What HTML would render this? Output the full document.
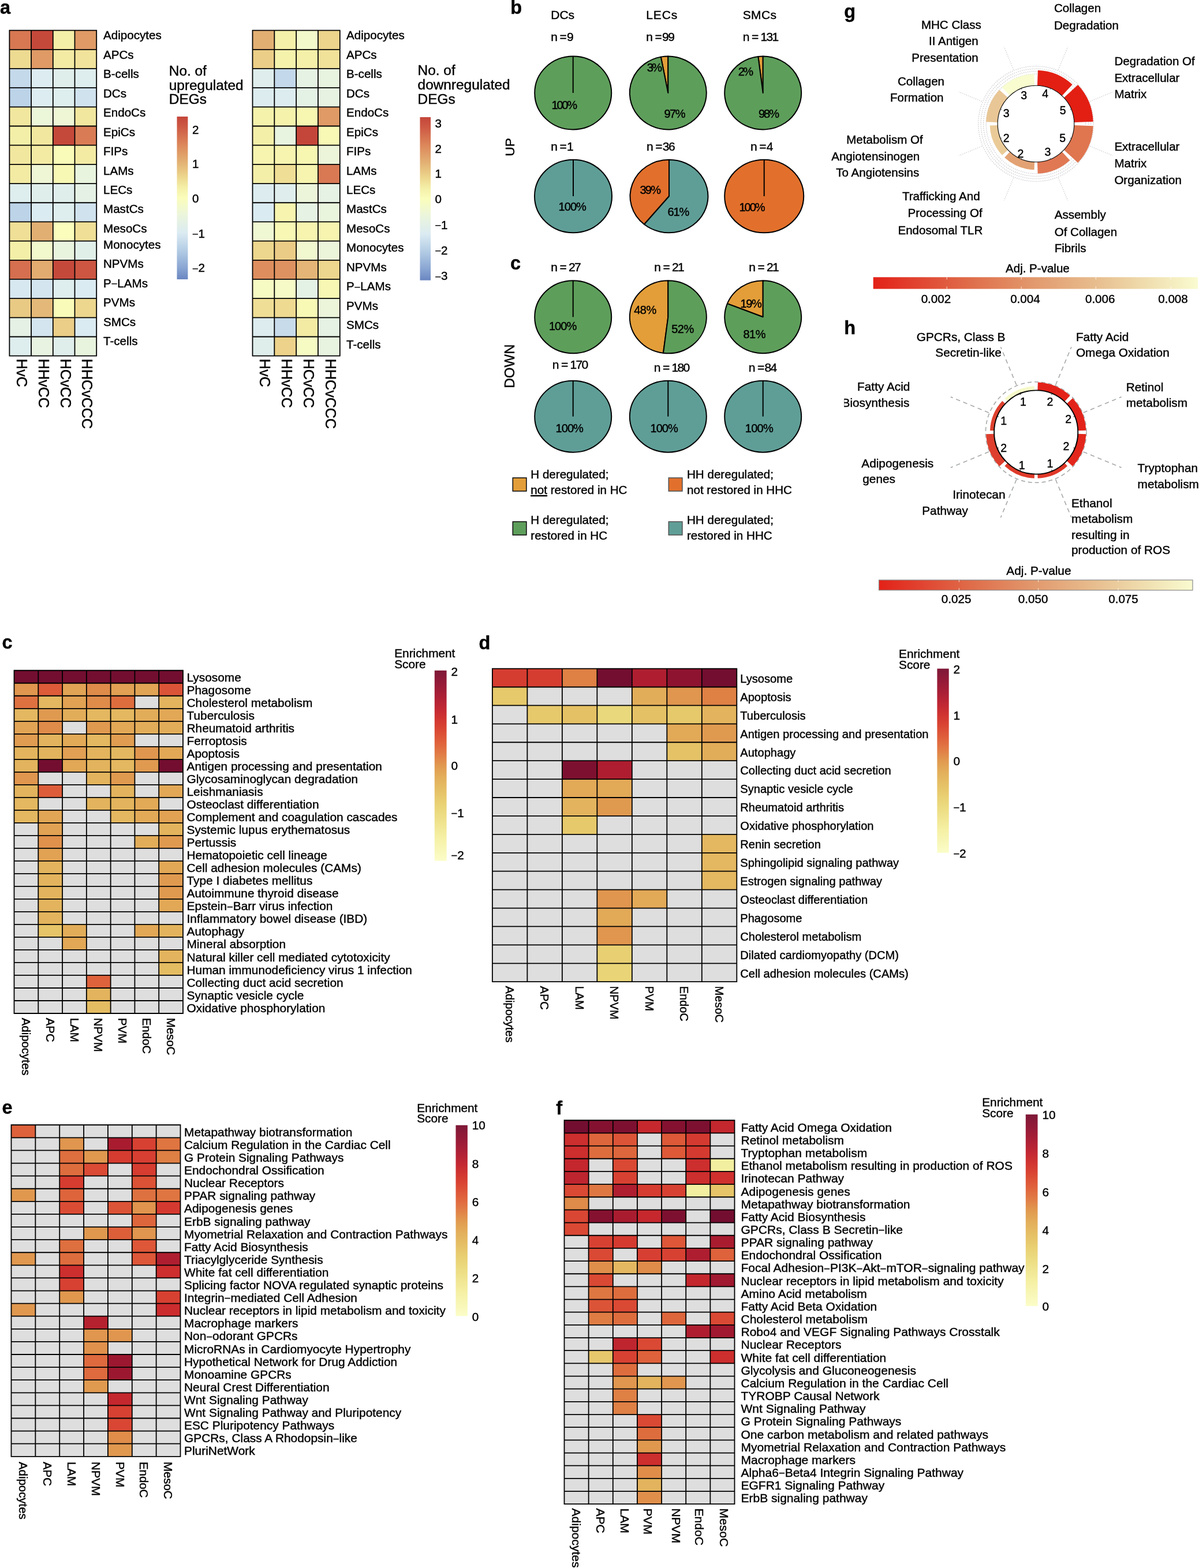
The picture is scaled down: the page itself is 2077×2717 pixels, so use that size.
<!DOCTYPE html>
<html lang="en"><head><meta charset="utf-8"><title>Figure</title>
<style>
html,body{margin:0;padding:0;background:#fff;}
body{width:2077px;height:2717px;overflow:hidden;}
svg{display:block;font-family:"Liberation Sans",Arial,Helvetica,sans-serif;fill:#000;}
text{stroke:#000;stroke-width:0.42px;stroke-linejoin:round;}
</style></head>
<body>
<svg width="2077" height="2717" viewBox="0 0 2077 2717">
<defs><linearGradient id="gA" x1="0" y1="0" x2="0" y2="1"><stop offset="0.0000" stop-color="#C4463A"/><stop offset="0.0650" stop-color="#CE5A44"/><stop offset="0.1800" stop-color="#DD8A5C"/><stop offset="0.2850" stop-color="#E3B375"/><stop offset="0.3700" stop-color="#EDD68D"/><stop offset="0.4350" stop-color="#F4EFA8"/><stop offset="0.5000" stop-color="#FAFDBB"/><stop offset="0.6050" stop-color="#EBF5DC"/><stop offset="0.7150" stop-color="#DBEBF2"/><stop offset="0.8200" stop-color="#B4CDE5"/><stop offset="0.9250" stop-color="#8BA7D3"/><stop offset="1.0000" stop-color="#6A86C1"/></linearGradient><linearGradient id="gY" x1="0" y1="0" x2="0" y2="1"><stop offset="0.0000" stop-color="#7E1838"/><stop offset="0.0700" stop-color="#951B38"/><stop offset="0.1400" stop-color="#AD2036"/><stop offset="0.2000" stop-color="#C22833"/><stop offset="0.2500" stop-color="#D03431"/><stop offset="0.3000" stop-color="#D94332"/><stop offset="0.3800" stop-color="#E0623C"/><stop offset="0.4400" stop-color="#E17C46"/><stop offset="0.5000" stop-color="#E1994F"/><stop offset="0.5600" stop-color="#E3AE5A"/><stop offset="0.6200" stop-color="#E5BE64"/><stop offset="0.6900" stop-color="#E9CF72"/><stop offset="0.7500" stop-color="#ECDB80"/><stop offset="0.8750" stop-color="#F5F0A4"/><stop offset="1.0000" stop-color="#FBFDC9"/></linearGradient><linearGradient id="gP" x1="0" y1="0" x2="1" y2="0"><stop offset="0.0000" stop-color="#E32118"/><stop offset="0.1200" stop-color="#E1402E"/><stop offset="0.3000" stop-color="#DF6E4B"/><stop offset="0.5000" stop-color="#E29A6E"/><stop offset="0.7000" stop-color="#E8C091"/><stop offset="0.8500" stop-color="#F0DFB0"/><stop offset="1.0000" stop-color="#F9FBD0"/></linearGradient></defs>
<rect width="2077" height="2717" fill="#fff"/>
<g shape-rendering="geometricPrecision">
<rect x="16.40" y="52.60" width="37.70" height="33.18" fill="#D77853"/>
<rect x="54.10" y="52.60" width="37.70" height="33.18" fill="#C5493B"/>
<rect x="91.80" y="52.60" width="37.70" height="33.18" fill="#F4EFA8"/>
<rect x="129.50" y="52.60" width="37.70" height="33.18" fill="#DF9A66"/>
<rect x="16.40" y="85.78" width="37.70" height="33.18" fill="#EEDB92"/>
<rect x="54.10" y="85.78" width="37.70" height="33.18" fill="#DF9A66"/>
<rect x="91.80" y="85.78" width="37.70" height="33.18" fill="#F3EBA4"/>
<rect x="129.50" y="85.78" width="37.70" height="33.18" fill="#F1E39B"/>
<rect x="16.40" y="118.96" width="37.70" height="33.18" fill="#C4D9EA"/>
<rect x="54.10" y="118.96" width="37.70" height="33.18" fill="#DDECF0"/>
<rect x="91.80" y="118.96" width="37.70" height="33.18" fill="#E0EEEB"/>
<rect x="129.50" y="118.96" width="37.70" height="33.18" fill="#DEEDED"/>
<rect x="16.40" y="152.15" width="37.70" height="33.18" fill="#BCD3E8"/>
<rect x="54.10" y="152.15" width="37.70" height="33.18" fill="#DDECF0"/>
<rect x="91.80" y="152.15" width="37.70" height="33.18" fill="#DEEDED"/>
<rect x="129.50" y="152.15" width="37.70" height="33.18" fill="#D0E2EE"/>
<rect x="16.40" y="185.33" width="37.70" height="33.18" fill="#F2E79F"/>
<rect x="54.10" y="185.33" width="37.70" height="33.18" fill="#ECF6D9"/>
<rect x="91.80" y="185.33" width="37.70" height="33.18" fill="#EEF6D6"/>
<rect x="129.50" y="185.33" width="37.70" height="33.18" fill="#F2E79F"/>
<rect x="16.40" y="218.51" width="37.70" height="33.18" fill="#F4EFA8"/>
<rect x="54.10" y="218.51" width="37.70" height="33.18" fill="#F2E79F"/>
<rect x="91.80" y="218.51" width="37.70" height="33.18" fill="#C5493B"/>
<rect x="129.50" y="218.51" width="37.70" height="33.18" fill="#D97C55"/>
<rect x="16.40" y="251.69" width="37.70" height="33.18" fill="#F2E79F"/>
<rect x="54.10" y="251.69" width="37.70" height="33.18" fill="#F3EBA4"/>
<rect x="91.80" y="251.69" width="37.70" height="33.18" fill="#F9FBB8"/>
<rect x="129.50" y="251.69" width="37.70" height="33.18" fill="#F3EBA4"/>
<rect x="16.40" y="284.88" width="37.70" height="33.18" fill="#F3EBA4"/>
<rect x="54.10" y="284.88" width="37.70" height="33.18" fill="#EEF6D6"/>
<rect x="91.80" y="284.88" width="37.70" height="33.18" fill="#F8F8B5"/>
<rect x="129.50" y="284.88" width="37.70" height="33.18" fill="#E9F4DF"/>
<rect x="16.40" y="318.06" width="37.70" height="33.18" fill="#DEEDED"/>
<rect x="54.10" y="318.06" width="37.70" height="33.18" fill="#E0EEEB"/>
<rect x="91.80" y="318.06" width="37.70" height="33.18" fill="#E0EEEB"/>
<rect x="129.50" y="318.06" width="37.70" height="33.18" fill="#E5F1E5"/>
<rect x="16.40" y="351.24" width="37.70" height="33.18" fill="#BCD3E8"/>
<rect x="54.10" y="351.24" width="37.70" height="33.18" fill="#DBEBF2"/>
<rect x="91.80" y="351.24" width="37.70" height="33.18" fill="#DEEDED"/>
<rect x="129.50" y="351.24" width="37.70" height="33.18" fill="#D0E2EE"/>
<rect x="16.40" y="384.42" width="37.70" height="33.18" fill="#EFDF97"/>
<rect x="54.10" y="384.42" width="37.70" height="33.18" fill="#E2AF73"/>
<rect x="91.80" y="384.42" width="37.70" height="33.18" fill="#FAFDBB"/>
<rect x="129.50" y="384.42" width="37.70" height="33.18" fill="#EFDF97"/>
<rect x="16.40" y="417.61" width="37.70" height="33.18" fill="#F4EFA8"/>
<rect x="54.10" y="417.61" width="37.70" height="33.18" fill="#F2F9CC"/>
<rect x="91.80" y="417.61" width="37.70" height="33.18" fill="#E9F4DF"/>
<rect x="129.50" y="417.61" width="37.70" height="33.18" fill="#E1EFE9"/>
<rect x="16.40" y="450.79" width="37.70" height="33.18" fill="#D56F4F"/>
<rect x="54.10" y="450.79" width="37.70" height="33.18" fill="#E2AB70"/>
<rect x="91.80" y="450.79" width="37.70" height="33.18" fill="#C5493B"/>
<rect x="129.50" y="450.79" width="37.70" height="33.18" fill="#CC5642"/>
<rect x="16.40" y="483.97" width="37.70" height="33.18" fill="#D8E8F1"/>
<rect x="54.10" y="483.97" width="37.70" height="33.18" fill="#D4E5F0"/>
<rect x="91.80" y="483.97" width="37.70" height="33.18" fill="#DEEDED"/>
<rect x="129.50" y="483.97" width="37.70" height="33.18" fill="#DBEBF2"/>
<rect x="16.40" y="517.15" width="37.70" height="33.18" fill="#E9CA84"/>
<rect x="54.10" y="517.15" width="37.70" height="33.18" fill="#E4B878"/>
<rect x="91.80" y="517.15" width="37.70" height="33.18" fill="#F9FBB8"/>
<rect x="129.50" y="517.15" width="37.70" height="33.18" fill="#EDD78E"/>
<rect x="16.40" y="550.34" width="37.70" height="33.18" fill="#E5F1E5"/>
<rect x="54.10" y="550.34" width="37.70" height="33.18" fill="#D4E5F0"/>
<rect x="91.80" y="550.34" width="37.70" height="33.18" fill="#EBCE87"/>
<rect x="129.50" y="550.34" width="37.70" height="33.18" fill="#DBEBF2"/>
<rect x="16.40" y="583.52" width="37.70" height="33.18" fill="#DEEDED"/>
<rect x="54.10" y="583.52" width="37.70" height="33.18" fill="#E8F3E1"/>
<rect x="91.80" y="583.52" width="37.70" height="33.18" fill="#E0EEEB"/>
<rect x="129.50" y="583.52" width="37.70" height="33.18" fill="#E9F4DF"/>
<path d="M16.40,52.60H167.20M16.40,85.78H167.20M16.40,118.96H167.20M16.40,152.15H167.20M16.40,185.33H167.20M16.40,218.51H167.20M16.40,251.69H167.20M16.40,284.88H167.20M16.40,318.06H167.20M16.40,351.24H167.20M16.40,384.42H167.20M16.40,417.61H167.20M16.40,450.79H167.20M16.40,483.97H167.20M16.40,517.15H167.20M16.40,550.34H167.20M16.40,583.52H167.20M16.40,616.70H167.20M16.40,52.60V616.70M54.10,52.60V616.70M91.80,52.60V616.70M129.50,52.60V616.70M167.20,52.60V616.70" stroke="#000" stroke-width="1.8" fill="none" stroke-linecap="square"/>
</g>
<text x="179.0" y="68.2" font-size="20.6">Adipocytes</text>
<text x="179.0" y="101.7" font-size="20.6">APCs</text>
<text x="179.0" y="135.1" font-size="20.6">B-cells</text>
<text x="179.0" y="168.6" font-size="20.6">DCs</text>
<text x="179.0" y="202.1" font-size="20.6">EndoCs</text>
<text x="179.0" y="235.6" font-size="20.6">EpiCs</text>
<text x="179.0" y="269.0" font-size="20.6">FIPs</text>
<text x="179.0" y="302.5" font-size="20.6">LAMs</text>
<text x="179.0" y="336.0" font-size="20.6">LECs</text>
<text x="179.0" y="369.4" font-size="20.6">MastCs</text>
<text x="179.0" y="402.9" font-size="20.6">MesoCs</text>
<text x="179.0" y="430.9" font-size="20.6">Monocytes</text>
<text x="179.0" y="464.3" font-size="20.6">NPVMs</text>
<text x="179.0" y="497.8" font-size="20.6">P<tspan style="font-size:88%" dy="0.02em">−</tspan><tspan dy="-0.02em">LAMs</tspan></text>
<text x="179.0" y="531.3" font-size="20.6">PVMs</text>
<text x="179.0" y="564.8" font-size="20.6">SMCs</text>
<text x="179.0" y="598.2" font-size="20.6">T-cells</text>
<text transform="translate(29.2,621.8) rotate(90)" font-size="25.1">HvC</text>
<text transform="translate(66.8,621.8) rotate(90)" font-size="25.1">HHvCC</text>
<text transform="translate(104.5,621.8) rotate(90)" font-size="25.1">HCvCC</text>
<text transform="translate(142.2,621.8) rotate(90)" font-size="25.1">HHCvCCC</text>
<text x="292.8" y="130.6" font-size="24.4">No. of</text>
<text x="292.8" y="155.6" font-size="24.4">upregulated</text>
<text x="292.8" y="180.2" font-size="24.4">DEGs</text>
<rect x="306.5" y="202" width="18.9" height="282" fill="url(#gA)"/>
<text x="332.9" y="231.8" font-size="20.6">2</text>
<text x="332.9" y="291.0" font-size="20.6">1</text>
<text x="332.9" y="350.9" font-size="20.6">0</text>
<text x="332.9" y="411.6" font-size="20.6"><tspan style="font-size:88%" dy="0.02em">−</tspan><tspan dy="-0.02em">1</tspan></text>
<text x="332.9" y="471.5" font-size="20.6"><tspan style="font-size:88%" dy="0.02em">−</tspan><tspan dy="-0.02em">2</tspan></text>
<g shape-rendering="geometricPrecision">
<rect x="437.50" y="52.60" width="37.82" height="33.18" fill="#E2AF73"/>
<rect x="475.32" y="52.60" width="37.82" height="33.18" fill="#F4F0A9"/>
<rect x="513.15" y="52.60" width="37.82" height="33.18" fill="#F3F9CB"/>
<rect x="550.97" y="52.60" width="37.82" height="33.18" fill="#ECD48C"/>
<rect x="437.50" y="85.78" width="37.82" height="33.18" fill="#EBCE87"/>
<rect x="475.32" y="85.78" width="37.82" height="33.18" fill="#F5F2AC"/>
<rect x="513.15" y="85.78" width="37.82" height="33.18" fill="#F4F0A9"/>
<rect x="550.97" y="85.78" width="37.82" height="33.18" fill="#F0E299"/>
<rect x="437.50" y="118.96" width="37.82" height="33.18" fill="#DFEEEC"/>
<rect x="475.32" y="118.96" width="37.82" height="33.18" fill="#C3D8EA"/>
<rect x="513.15" y="118.96" width="37.82" height="33.18" fill="#E6F2E3"/>
<rect x="550.97" y="118.96" width="37.82" height="33.18" fill="#E8F3E0"/>
<rect x="437.50" y="152.15" width="37.82" height="33.18" fill="#DDECEF"/>
<rect x="475.32" y="152.15" width="37.82" height="33.18" fill="#DDECEF"/>
<rect x="513.15" y="152.15" width="37.82" height="33.18" fill="#E4F1E5"/>
<rect x="550.97" y="152.15" width="37.82" height="33.18" fill="#E7F2E2"/>
<rect x="437.50" y="185.33" width="37.82" height="33.18" fill="#F5F2AC"/>
<rect x="475.32" y="185.33" width="37.82" height="33.18" fill="#F5F2AC"/>
<rect x="513.15" y="185.33" width="37.82" height="33.18" fill="#F7F7B2"/>
<rect x="550.97" y="185.33" width="37.82" height="33.18" fill="#DF9A66"/>
<rect x="437.50" y="218.51" width="37.82" height="33.18" fill="#F4EFA8"/>
<rect x="475.32" y="218.51" width="37.82" height="33.18" fill="#E8F3E0"/>
<rect x="513.15" y="218.51" width="37.82" height="33.18" fill="#C4463A"/>
<rect x="550.97" y="218.51" width="37.82" height="33.18" fill="#F8F9B5"/>
<rect x="437.50" y="251.69" width="37.82" height="33.18" fill="#F6F4AF"/>
<rect x="475.32" y="251.69" width="37.82" height="33.18" fill="#F6F4AF"/>
<rect x="513.15" y="251.69" width="37.82" height="33.18" fill="#F7F7B2"/>
<rect x="550.97" y="251.69" width="37.82" height="33.18" fill="#ECF5DA"/>
<rect x="437.50" y="284.88" width="37.82" height="33.18" fill="#F4EFA8"/>
<rect x="475.32" y="284.88" width="37.82" height="33.18" fill="#EFDE95"/>
<rect x="513.15" y="284.88" width="37.82" height="33.18" fill="#F6F4AF"/>
<rect x="550.97" y="284.88" width="37.82" height="33.18" fill="#D87954"/>
<rect x="437.50" y="318.06" width="37.82" height="33.18" fill="#DDECEF"/>
<rect x="475.32" y="318.06" width="37.82" height="33.18" fill="#DFEEEC"/>
<rect x="513.15" y="318.06" width="37.82" height="33.18" fill="#ECF5DA"/>
<rect x="550.97" y="318.06" width="37.82" height="33.18" fill="#E6F2E3"/>
<rect x="437.50" y="351.24" width="37.82" height="33.18" fill="#DBEBF2"/>
<rect x="475.32" y="351.24" width="37.82" height="33.18" fill="#F6F4AF"/>
<rect x="513.15" y="351.24" width="37.82" height="33.18" fill="#E6F2E3"/>
<rect x="550.97" y="351.24" width="37.82" height="33.18" fill="#EAF5DD"/>
<rect x="437.50" y="384.42" width="37.82" height="33.18" fill="#EFF7D3"/>
<rect x="475.32" y="384.42" width="37.82" height="33.18" fill="#F8F8B4"/>
<rect x="513.15" y="384.42" width="37.82" height="33.18" fill="#F6F4AF"/>
<rect x="550.97" y="384.42" width="37.82" height="33.18" fill="#F6F4AF"/>
<rect x="437.50" y="417.61" width="37.82" height="33.18" fill="#EDD68D"/>
<rect x="475.32" y="417.61" width="37.82" height="33.18" fill="#EACC86"/>
<rect x="513.15" y="417.61" width="37.82" height="33.18" fill="#F1F8CF"/>
<rect x="550.97" y="417.61" width="37.82" height="33.18" fill="#ECF5DA"/>
<rect x="437.50" y="450.79" width="37.82" height="33.18" fill="#DE8E5E"/>
<rect x="475.32" y="450.79" width="37.82" height="33.18" fill="#DE9261"/>
<rect x="513.15" y="450.79" width="37.82" height="33.18" fill="#E4B576"/>
<rect x="550.97" y="450.79" width="37.82" height="33.18" fill="#EDD68D"/>
<rect x="437.50" y="483.97" width="37.82" height="33.18" fill="#F6FBC3"/>
<rect x="475.32" y="483.97" width="37.82" height="33.18" fill="#F5FAC6"/>
<rect x="513.15" y="483.97" width="37.82" height="33.18" fill="#E4F1E5"/>
<rect x="550.97" y="483.97" width="37.82" height="33.18" fill="#F8F8B4"/>
<rect x="437.50" y="517.15" width="37.82" height="33.18" fill="#EFDE95"/>
<rect x="475.32" y="517.15" width="37.82" height="33.18" fill="#EEDA91"/>
<rect x="513.15" y="517.15" width="37.82" height="33.18" fill="#F8F9B5"/>
<rect x="550.97" y="517.15" width="37.82" height="33.18" fill="#ECF5DA"/>
<rect x="437.50" y="550.34" width="37.82" height="33.18" fill="#DDECEF"/>
<rect x="475.32" y="550.34" width="37.82" height="33.18" fill="#C7DBEB"/>
<rect x="513.15" y="550.34" width="37.82" height="33.18" fill="#F3EBA4"/>
<rect x="550.97" y="550.34" width="37.82" height="33.18" fill="#E6F2E3"/>
<rect x="437.50" y="583.52" width="37.82" height="33.18" fill="#E0EEEB"/>
<rect x="475.32" y="583.52" width="37.82" height="33.18" fill="#ECD28A"/>
<rect x="513.15" y="583.52" width="37.82" height="33.18" fill="#F6FBC3"/>
<rect x="550.97" y="583.52" width="37.82" height="33.18" fill="#E8F3E0"/>
<path d="M437.50,52.60H588.80M437.50,85.78H588.80M437.50,118.96H588.80M437.50,152.15H588.80M437.50,185.33H588.80M437.50,218.51H588.80M437.50,251.69H588.80M437.50,284.88H588.80M437.50,318.06H588.80M437.50,351.24H588.80M437.50,384.42H588.80M437.50,417.61H588.80M437.50,450.79H588.80M437.50,483.97H588.80M437.50,517.15H588.80M437.50,550.34H588.80M437.50,583.52H588.80M437.50,616.70H588.80M437.50,52.60V616.70M475.32,52.60V616.70M513.15,52.60V616.70M550.97,52.60V616.70M588.80,52.60V616.70" stroke="#000" stroke-width="1.8" fill="none" stroke-linecap="square"/>
</g>
<text x="600.0" y="68.2" font-size="20.6">Adipocytes</text>
<text x="600.0" y="101.7" font-size="20.6">APCs</text>
<text x="600.0" y="135.1" font-size="20.6">B-cells</text>
<text x="600.0" y="168.6" font-size="20.6">DCs</text>
<text x="600.0" y="202.1" font-size="20.6">EndoCs</text>
<text x="600.0" y="235.6" font-size="20.6">EpiCs</text>
<text x="600.0" y="269.0" font-size="20.6">FIPs</text>
<text x="600.0" y="302.5" font-size="20.6">LAMs</text>
<text x="600.0" y="336.0" font-size="20.6">LECs</text>
<text x="600.0" y="369.4" font-size="20.6">MastCs</text>
<text x="600.0" y="402.9" font-size="20.6">MesoCs</text>
<text x="600.0" y="436.4" font-size="20.6">Monocytes</text>
<text x="600.0" y="469.8" font-size="20.6">NPVMs</text>
<text x="600.0" y="503.3" font-size="20.6">P<tspan style="font-size:88%" dy="0.02em">−</tspan><tspan dy="-0.02em">LAMs</tspan></text>
<text x="600.0" y="536.8" font-size="20.6">PVMs</text>
<text x="600.0" y="570.2" font-size="20.6">SMCs</text>
<text x="600.0" y="603.7" font-size="20.6">T-cells</text>
<text transform="translate(450.3,621.8) rotate(90)" font-size="25.1">HvC</text>
<text transform="translate(488.1,621.8) rotate(90)" font-size="25.1">HHvCC</text>
<text transform="translate(526.0,621.8) rotate(90)" font-size="25.1">HCvCC</text>
<text transform="translate(563.8,621.8) rotate(90)" font-size="25.1">HHCvCCC</text>
<text x="723.6" y="130.0" font-size="24.4">No. of</text>
<text x="723.6" y="155.0" font-size="24.4">downregulated</text>
<text x="723.6" y="179.5" font-size="24.4">DEGs</text>
<rect x="727.5" y="203" width="18.6" height="282.7" fill="url(#gA)"/>
<text x="753.5" y="220.8" font-size="20.6">3</text>
<text x="753.5" y="264.8" font-size="20.6">2</text>
<text x="753.5" y="308.2" font-size="20.6">1</text>
<text x="753.5" y="352.2" font-size="20.6">0</text>
<text x="753.5" y="396.7" font-size="20.6"><tspan style="font-size:88%" dy="0.02em">−</tspan><tspan dy="-0.02em">1</tspan></text>
<text x="753.5" y="440.6" font-size="20.6"><tspan style="font-size:88%" dy="0.02em">−</tspan><tspan dy="-0.02em">2</tspan></text>
<text x="753.5" y="485.5" font-size="20.6"><tspan style="font-size:88%" dy="0.02em">−</tspan><tspan dy="-0.02em">3</tspan></text>
<text x="0.0" y="23.5" font-size="32.5" font-weight="bold">a</text>
<text x="884.3" y="23.6" font-size="32.5" font-weight="bold">b</text>
<text x="884.0" y="466.7" font-size="32.5" font-weight="bold">c</text>
<text x="954.3" y="32.7" font-size="21" textLength="40.7" lengthAdjust="spacing">DCs</text>
<text x="1119.3" y="32.7" font-size="21" textLength="54.0" lengthAdjust="spacing">LECs</text>
<text x="1286.7" y="32.7" font-size="21" textLength="58.3" lengthAdjust="spacing">SMCs</text>
<text y="70.7" font-size="21"><tspan x="954.3">n</tspan><tspan x="969.6">=</tspan><tspan x="982.1" letter-spacing="-1.6">9</tspan></text>
<text y="70.7" font-size="21"><tspan x="1119.3">n</tspan><tspan x="1134.6">=</tspan><tspan x="1147.1" letter-spacing="-1.6">99</tspan></text>
<text y="70.7" font-size="21"><tspan x="1286.7">n</tspan><tspan x="1302.0">=</tspan><tspan x="1317.4" letter-spacing="-1.6">131</tspan></text>
<text y="261.0" font-size="21"><tspan x="954.3">n</tspan><tspan x="969.6">=</tspan><tspan x="982.1" letter-spacing="-1.6">1</tspan></text>
<text y="261.0" font-size="21"><tspan x="1120.0">n</tspan><tspan x="1135.3">=</tspan><tspan x="1147.8" letter-spacing="-1.6">36</tspan></text>
<text y="261.0" font-size="21"><tspan x="1300.0">n</tspan><tspan x="1315.3">=</tspan><tspan x="1327.8" letter-spacing="-1.6">4</tspan></text>
<text y="470.0" font-size="21"><tspan x="954.3">n</tspan><tspan x="969.6">=</tspan><tspan x="985.0" letter-spacing="-1.6">27</tspan></text>
<text y="470.0" font-size="21"><tspan x="1133.3">n</tspan><tspan x="1148.6">=</tspan><tspan x="1164.0" letter-spacing="-1.6">21</tspan></text>
<text y="470.0" font-size="21"><tspan x="1297.3">n</tspan><tspan x="1312.6">=</tspan><tspan x="1328.0" letter-spacing="-1.6">21</tspan></text>
<text y="639.3" font-size="21"><tspan x="956.7">n</tspan><tspan x="972.0">=</tspan><tspan x="987.4" letter-spacing="-1.6">170</tspan></text>
<text y="644.0" font-size="21"><tspan x="1132.7">n</tspan><tspan x="1148.0">=</tspan><tspan x="1163.4" letter-spacing="-1.6">180</tspan></text>
<text y="644.0" font-size="21"><tspan x="1296.7">n</tspan><tspan x="1312.0">=</tspan><tspan x="1324.5" letter-spacing="-1.6">84</tspan></text>
<g stroke="#000" stroke-width="2.0" stroke-linejoin="round">
<ellipse cx="992.7" cy="161.0" rx="66.5" ry="63.5" fill="#5E9E5B"/>
<path d="M992.7,161.0V97.5" fill="none"/>
</g>
<g stroke="#000" stroke-width="2.0" stroke-linejoin="round">
<path d="M1157.3,161.0L1157.30,97.50A66.5,63.5 0 0 0 1144.84,98.62Z" fill="#E39E39"/>
<path d="M1157.3,161.0L1144.84,98.62A66.5,63.5 0 1 0 1157.30,97.50Z" fill="#5E9E5B"/>
</g>
<g stroke="#000" stroke-width="2.0" stroke-linejoin="round">
<path d="M1321.7,161.0L1321.70,97.50A66.5,63.5 0 0 0 1313.37,98.00Z" fill="#E39E39"/>
<path d="M1321.7,161.0L1313.37,98.00A66.5,63.5 0 1 0 1321.70,97.50Z" fill="#5E9E5B"/>
</g>
<g stroke="#000" stroke-width="2.0" stroke-linejoin="round">
<ellipse cx="993.0" cy="340.0" rx="67.0" ry="63.3" fill="#5F9E97"/>
<path d="M993.0,340.0V276.7" fill="none"/>
</g>
<g stroke="#000" stroke-width="2.0" stroke-linejoin="round">
<path d="M1159.0,340.0L1159.00,276.70A67.5,63.3 0 0 0 1115.97,388.77Z" fill="#E2702C"/>
<path d="M1159.0,340.0L1115.97,388.77A67.5,63.3 0 1 0 1159.00,276.70Z" fill="#5F9E97"/>
</g>
<g stroke="#000" stroke-width="2.0" stroke-linejoin="round">
<ellipse cx="1323.7" cy="340.0" rx="68.5" ry="63.3" fill="#E2702C"/>
<path d="M1323.7,340.0V276.7" fill="none"/>
</g>
<g stroke="#000" stroke-width="2.0" stroke-linejoin="round">
<ellipse cx="992.7" cy="549.3" rx="66.5" ry="63.0" fill="#5E9E5B"/>
<path d="M992.7,549.3V486.3" fill="none"/>
</g>
<g stroke="#000" stroke-width="2.0" stroke-linejoin="round">
<path d="M1157.3,549.3L1157.30,486.30A66.5,63.0 0 0 0 1148.97,611.80Z" fill="#E39E39"/>
<path d="M1157.3,549.3L1148.97,611.80A66.5,63.0 0 1 0 1157.30,486.30Z" fill="#5E9E5B"/>
</g>
<g stroke="#000" stroke-width="2.0" stroke-linejoin="round">
<path d="M1321.7,549.3L1321.70,486.30A66.5,63.0 0 0 0 1259.87,526.11Z" fill="#E39E39"/>
<path d="M1321.7,549.3L1259.87,526.11A66.5,63.0 0 1 0 1321.70,486.30Z" fill="#5E9E5B"/>
</g>
<g stroke="#000" stroke-width="2.0" stroke-linejoin="round">
<ellipse cx="992.7" cy="721.7" rx="66.5" ry="62.0" fill="#5F9E97"/>
<path d="M992.7,721.7V659.7" fill="none"/>
</g>
<g stroke="#000" stroke-width="2.0" stroke-linejoin="round">
<ellipse cx="1157.3" cy="721.7" rx="66.5" ry="62.0" fill="#5F9E97"/>
<path d="M1157.3,721.7V659.7" fill="none"/>
</g>
<g stroke="#000" stroke-width="2.0" stroke-linejoin="round">
<ellipse cx="1321.7" cy="721.7" rx="66.5" ry="62.0" fill="#5F9E97"/>
<path d="M1321.7,721.7V659.7" fill="none"/>
</g>
<text x="955.5" y="189.3" font-size="20" textLength="44.5" lengthAdjust="spacing">100%</text>
<text x="1120.8" y="124.0" font-size="20" textLength="26.3" lengthAdjust="spacing">3%</text>
<text x="1150.5" y="204.0" font-size="20" textLength="37.0" lengthAdjust="spacing">97%</text>
<text x="1278.8" y="130.7" font-size="20" textLength="26.3" lengthAdjust="spacing">2%</text>
<text x="1314.0" y="204.0" font-size="20" textLength="36.0" lengthAdjust="spacing">98%</text>
<text x="967.6" y="365.0" font-size="20" textLength="48.3" lengthAdjust="spacing">100%</text>
<text x="1108.4" y="336.0" font-size="20" textLength="36.7" lengthAdjust="spacing">39%</text>
<text x="1156.5" y="374.3" font-size="20" textLength="37.7" lengthAdjust="spacing">61%</text>
<text x="1280.5" y="365.7" font-size="20" textLength="45.0" lengthAdjust="spacing">100%</text>
<text x="950.9" y="571.7" font-size="20" textLength="48.3" lengthAdjust="spacing">100%</text>
<text x="1098.2" y="544.0" font-size="20" textLength="39.0" lengthAdjust="spacing">48%</text>
<text x="1163.2" y="577.3" font-size="20" textLength="39.0" lengthAdjust="spacing">52%</text>
<text x="1282.6" y="533.3" font-size="20" textLength="37.3" lengthAdjust="spacing">19%</text>
<text x="1287.5" y="586.0" font-size="20" textLength="39.0" lengthAdjust="spacing">81%</text>
<text x="962.6" y="749.0" font-size="20" textLength="48.3" lengthAdjust="spacing">100%</text>
<text x="1126.5" y="749.0" font-size="20" textLength="48.3" lengthAdjust="spacing">100%</text>
<text x="1290.8" y="749.0" font-size="20" textLength="49.0" lengthAdjust="spacing">100%</text>
<text transform="translate(891.0,255.0) rotate(-90)" font-size="22.8" text-anchor="middle">UP</text>
<text transform="translate(891.0,634.5) rotate(-90)" font-size="24" text-anchor="middle">DOWN</text>
<rect x="888.3" y="828" width="23.6" height="23" fill="#E39E39" stroke="#111" stroke-width="1.6"/>
<rect x="1158.3" y="828" width="23.6" height="23" fill="#E2702C" stroke="#555" stroke-width="1.6"/>
<rect x="888.3" y="904" width="23.6" height="23" fill="#5E9E5B" stroke="#111" stroke-width="1.6"/>
<rect x="1158.3" y="904" width="23.6" height="23" fill="#5F9E97" stroke="#555" stroke-width="1.6"/>
<text x="919.3" y="829.3" font-size="20.6">H deregulated;</text>
<text x="919.3" y="856" font-size="20.6"><tspan text-decoration="underline">not</tspan> restored in HC</text>
<text x="1190.0" y="829.3" font-size="20.6">HH deregulated;</text>
<text x="1190.0" y="856.0" font-size="20.6">not restored in HHC</text>
<text x="919.3" y="908.3" font-size="20.6">H deregulated;</text>
<text x="919.3" y="935.0" font-size="20.6">restored in HC</text>
<text x="1190.0" y="908.3" font-size="20.6">HH deregulated;</text>
<text x="1190.0" y="935.0" font-size="20.6">restored in HHC</text>
<text x="1462.2" y="30.6" font-size="32.5" font-weight="bold">g</text>
<circle cx="1794.5" cy="214.5" r="86.3" fill="none" stroke="#BDBDC4" stroke-width="1.2" stroke-dasharray="1.4 2.1"/>
<circle cx="1794.5" cy="214.5" r="90.9" fill="none" stroke="#BDBDC4" stroke-width="1.2" stroke-dasharray="1.4 2.1"/>
<circle cx="1794.5" cy="214.5" r="95.3" fill="none" stroke="#BDBDC4" stroke-width="1.2" stroke-dasharray="1.4 2.1"/>
<circle cx="1794.5" cy="214.5" r="99.8" fill="none" stroke="#BDBDC4" stroke-width="1.2" stroke-dasharray="1.4 2.1"/>
<line x1="1833.34" y1="120.73" x2="1849.61" y2="81.46" stroke="#C6C5CA" stroke-width="1.2" stroke-dasharray="1.4 2.1"/>
<line x1="1888.27" y1="175.66" x2="1927.54" y2="159.39" stroke="#C6C5CA" stroke-width="1.2" stroke-dasharray="1.4 2.1"/>
<line x1="1888.27" y1="253.34" x2="1927.54" y2="269.61" stroke="#C6C5CA" stroke-width="1.2" stroke-dasharray="1.4 2.1"/>
<line x1="1833.34" y1="308.27" x2="1849.61" y2="347.54" stroke="#C6C5CA" stroke-width="1.2" stroke-dasharray="1.4 2.1"/>
<line x1="1755.66" y1="308.27" x2="1739.39" y2="347.54" stroke="#C6C5CA" stroke-width="1.2" stroke-dasharray="1.4 2.1"/>
<line x1="1700.73" y1="253.34" x2="1661.46" y2="269.61" stroke="#C6C5CA" stroke-width="1.2" stroke-dasharray="1.4 2.1"/>
<line x1="1700.73" y1="175.66" x2="1661.46" y2="159.39" stroke="#C6C5CA" stroke-width="1.2" stroke-dasharray="1.4 2.1"/>
<line x1="1755.66" y1="120.73" x2="1739.39" y2="81.46" stroke="#C6C5CA" stroke-width="1.2" stroke-dasharray="1.4 2.1"/>
<path d="M1796.93,148.24L1797.90,121.76A92.80,92.80 0 0 1 1857.67,146.52L1839.63,165.93A66.30,66.30 0 0 0 1796.93,148.24Z" fill="#E31F13"/>
<path d="M1843.07,169.37L1867.24,146.90A99.30,99.30 0 0 1 1893.73,210.86L1860.76,212.07A66.30,66.30 0 0 0 1843.07,169.37Z" fill="#E31F13"/>
<path d="M1860.76,216.93L1893.73,218.14A99.30,99.30 0 0 1 1867.24,282.10L1843.07,259.63A66.30,66.30 0 0 0 1860.76,216.93Z" fill="#DF7650"/>
<path d="M1839.63,263.07L1853.31,277.79A86.40,86.40 0 0 1 1797.67,300.84L1796.93,280.76A66.30,66.30 0 0 0 1839.63,263.07Z" fill="#E07854"/>
<path d="M1792.07,280.76L1791.57,294.35A79.90,79.90 0 0 1 1740.11,273.03L1749.37,263.07A66.30,66.30 0 0 0 1792.07,280.76Z" fill="#E3A273"/>
<path d="M1745.93,259.63L1735.97,268.89A79.90,79.90 0 0 1 1714.65,217.43L1728.24,216.93A66.30,66.30 0 0 0 1745.93,259.63Z" fill="#EACB98"/>
<path d="M1728.24,212.07L1708.16,211.33A86.40,86.40 0 0 1 1731.21,155.69L1745.93,169.37A66.30,66.30 0 0 0 1728.24,212.07Z" fill="#E9C695"/>
<path d="M1749.37,165.93L1735.69,151.21A86.40,86.40 0 0 1 1791.33,128.16L1792.07,148.24A66.30,66.30 0 0 0 1749.37,165.93Z" fill="#F8FCCF"/>
<circle cx="1794.5" cy="214.5" r="66.3" fill="#fff" stroke="#000" stroke-width="1.1"/>
<line x1="1819.03" y1="155.28" x2="1819.87" y2="153.25" stroke="#222" stroke-width="0.8" stroke-dasharray="none"/>
<line x1="1853.72" y1="189.97" x2="1855.75" y2="189.13" stroke="#222" stroke-width="0.8" stroke-dasharray="none"/>
<line x1="1853.72" y1="239.03" x2="1855.75" y2="239.87" stroke="#222" stroke-width="0.8" stroke-dasharray="none"/>
<line x1="1819.03" y1="273.72" x2="1819.87" y2="275.75" stroke="#222" stroke-width="0.8" stroke-dasharray="none"/>
<line x1="1769.97" y1="273.72" x2="1769.13" y2="275.75" stroke="#222" stroke-width="0.8" stroke-dasharray="none"/>
<line x1="1735.28" y1="239.03" x2="1733.25" y2="239.87" stroke="#222" stroke-width="0.8" stroke-dasharray="none"/>
<line x1="1735.28" y1="189.97" x2="1733.25" y2="189.13" stroke="#222" stroke-width="0.8" stroke-dasharray="none"/>
<line x1="1769.97" y1="155.28" x2="1769.13" y2="153.25" stroke="#222" stroke-width="0.8" stroke-dasharray="none"/>
<text x="1810.7" y="169.4" font-size="19.5" text-anchor="middle">4</text>
<text x="1841.1" y="198.4" font-size="19.5" text-anchor="middle">5</text>
<text x="1840.8" y="246.4" font-size="19.5" text-anchor="middle">5</text>
<text x="1814.9" y="269.6" font-size="19.5" text-anchor="middle">3</text>
<text x="1767.9" y="273.3" font-size="19.5" text-anchor="middle">2</text>
<text x="1743.3" y="246.4" font-size="19.5" text-anchor="middle">2</text>
<text x="1743.3" y="202.6" font-size="19.5" text-anchor="middle">3</text>
<text x="1773.8" y="171.8" font-size="19.5" text-anchor="middle">3</text>
<text x="1826.0" y="21.0" font-size="20.55">Collagen</text>
<text x="1826.0" y="50.6" font-size="20.55">Degradation</text>
<text x="1930.4" y="112.6" font-size="20.55">Degradation Of</text>
<text x="1930.4" y="141.6" font-size="20.55">Extracellular</text>
<text x="1930.4" y="170.1" font-size="20.55">Matrix</text>
<text x="1930.4" y="261.2" font-size="20.55">Extracellular</text>
<text x="1930.4" y="290.2" font-size="20.55">Matrix</text>
<text x="1930.4" y="318.7" font-size="20.55">Organization</text>
<text x="1826.7" y="379.4" font-size="20.55">Assembly</text>
<text x="1826.7" y="408.7" font-size="20.55">Of Collagen</text>
<text x="1826.7" y="436.8" font-size="20.55">Fibrils</text>
<text x="1699.8" y="50.0" font-size="20.55" text-anchor="end">MHC Class</text>
<text x="1694.7" y="78.2" font-size="20.55" text-anchor="end">II Antigen</text>
<text x="1694.7" y="106.8" font-size="20.55" text-anchor="end">Presentation</text>
<text x="1636.0" y="147.8" font-size="20.55" text-anchor="end">Collagen</text>
<text x="1634.5" y="176.0" font-size="20.55" text-anchor="end">Formation</text>
<text x="1598.7" y="249.1" font-size="20.55" text-anchor="end">Metabolism Of</text>
<text x="1593.3" y="277.7" font-size="20.55" text-anchor="end">Angiotensinogen</text>
<text x="1592.2" y="305.8" font-size="20.55" text-anchor="end">To Angiotensins</text>
<text x="1697.7" y="347.3" font-size="20.55" text-anchor="end">Trafficking And</text>
<text x="1701.6" y="376.2" font-size="20.55" text-anchor="end">Processing Of</text>
<text x="1702.4" y="405.6" font-size="20.55" text-anchor="end">Endosomal TLR</text>
<text x="1797.4" y="472.4" font-size="20.55" text-anchor="middle">Adj. P-value</text>
<rect x="1512.7" y="480.3" width="562.3" height="20.3" fill="url(#gP)"/>
<path d="M1640.2,480.3v4M1640.2,500.6v-4" stroke="#fff" stroke-width="1" opacity="0.8"/>
<path d="M1769.2,480.3v4M1769.2,500.6v-4" stroke="#fff" stroke-width="1" opacity="0.8"/>
<path d="M1898.3,480.3v4M1898.3,500.6v-4" stroke="#fff" stroke-width="1" opacity="0.8"/>
<path d="M2028.1,480.3v4M2028.1,500.6v-4" stroke="#fff" stroke-width="1" opacity="0.8"/>
<text x="1621.4" y="525.3" font-size="20.6" text-anchor="middle">0.002</text>
<text x="1775.9" y="525.3" font-size="20.6" text-anchor="middle">0.004</text>
<text x="1905.7" y="525.3" font-size="20.6" text-anchor="middle">0.006</text>
<text x="2032.0" y="525.3" font-size="20.6" text-anchor="middle">0.008</text>
<text x="1462.2" y="578.8" font-size="32.5" font-weight="bold">h</text>
<circle cx="1794.7" cy="749" r="87.3" fill="none" stroke="#A2A4A4" stroke-width="1.5" stroke-dasharray="7 5"/>
<line x1="1828.57" y1="667.24" x2="1855.93" y2="601.18" stroke="#A2A4A4" stroke-width="1.5" stroke-dasharray="7.5 6"/>
<line x1="1876.46" y1="715.13" x2="1942.52" y2="687.77" stroke="#A2A4A4" stroke-width="1.5" stroke-dasharray="7.5 6"/>
<line x1="1876.46" y1="782.87" x2="1942.52" y2="810.23" stroke="#A2A4A4" stroke-width="1.5" stroke-dasharray="7.5 6"/>
<line x1="1828.57" y1="830.76" x2="1855.93" y2="896.82" stroke="#A2A4A4" stroke-width="1.5" stroke-dasharray="7.5 6"/>
<line x1="1760.83" y1="830.76" x2="1733.47" y2="896.82" stroke="#A2A4A4" stroke-width="1.5" stroke-dasharray="7.5 6"/>
<line x1="1712.94" y1="782.87" x2="1646.88" y2="810.23" stroke="#A2A4A4" stroke-width="1.5" stroke-dasharray="7.5 6"/>
<line x1="1712.94" y1="715.13" x2="1646.88" y2="687.77" stroke="#A2A4A4" stroke-width="1.5" stroke-dasharray="7.5 6"/>
<line x1="1760.83" y1="667.24" x2="1733.47" y2="601.18" stroke="#A2A4A4" stroke-width="1.5" stroke-dasharray="7.5 6"/>
<path d="M1797.36,676.45L1797.87,662.46A86.60,86.60 0 0 1 1853.65,685.56L1844.12,695.82A72.60,72.60 0 0 0 1797.36,676.45Z" fill="#E3231A"/>
<path d="M1847.88,699.58L1858.14,690.05A86.60,86.60 0 0 1 1881.24,745.83L1867.25,746.34A72.60,72.60 0 0 0 1847.88,699.58Z" fill="#E3231A"/>
<path d="M1867.25,751.66L1881.24,752.17A86.60,86.60 0 0 1 1858.14,807.95L1847.88,798.42A72.60,72.60 0 0 0 1867.25,751.66Z" fill="#E3271C"/>
<path d="M1844.12,802.18L1849.02,807.46A79.80,79.80 0 0 1 1797.62,828.75L1797.36,821.55A72.60,72.60 0 0 0 1844.12,802.18Z" fill="#E03828"/>
<path d="M1792.04,821.55L1791.78,828.75A79.80,79.80 0 0 1 1740.38,807.46L1745.28,802.18A72.60,72.60 0 0 0 1792.04,821.55Z" fill="#DF3B2A"/>
<path d="M1741.52,798.42L1731.26,807.95A86.60,86.60 0 0 1 1708.16,752.17L1722.15,751.66A72.60,72.60 0 0 0 1741.52,798.42Z" fill="#DE3F2E"/>
<path d="M1722.15,746.34L1714.95,746.08A79.80,79.80 0 0 1 1736.24,694.68L1741.52,699.58A72.60,72.60 0 0 0 1722.15,746.34Z" fill="#DE412F"/>
<path d="M1745.28,695.82L1740.38,690.54A79.80,79.80 0 0 1 1791.78,669.25L1792.04,676.45A72.60,72.60 0 0 0 1745.28,695.82Z" fill="#F6FAC8"/>
<circle cx="1794.7" cy="749" r="72.6" fill="#fff" stroke="#000" stroke-width="1.9"/>
<line x1="1821.53" y1="684.24" x2="1822.48" y2="681.93" stroke="#111" stroke-width="1" stroke-dasharray="none"/>
<line x1="1859.46" y1="722.17" x2="1861.77" y2="721.22" stroke="#111" stroke-width="1" stroke-dasharray="none"/>
<line x1="1859.46" y1="775.83" x2="1861.77" y2="776.78" stroke="#111" stroke-width="1" stroke-dasharray="none"/>
<line x1="1821.53" y1="813.76" x2="1822.48" y2="816.07" stroke="#111" stroke-width="1" stroke-dasharray="none"/>
<line x1="1767.87" y1="813.76" x2="1766.92" y2="816.07" stroke="#111" stroke-width="1" stroke-dasharray="none"/>
<line x1="1729.94" y1="775.83" x2="1727.63" y2="776.78" stroke="#111" stroke-width="1" stroke-dasharray="none"/>
<line x1="1729.94" y1="722.17" x2="1727.63" y2="721.22" stroke="#111" stroke-width="1" stroke-dasharray="none"/>
<line x1="1767.87" y1="684.24" x2="1766.92" y2="681.93" stroke="#111" stroke-width="1" stroke-dasharray="none"/>
<text x="1819.0" y="703.1" font-size="19.5" text-anchor="middle">2</text>
<text x="1850.7" y="733.2" font-size="19.5" text-anchor="middle">2</text>
<text x="1847.0" y="779.7" font-size="19.5" text-anchor="middle">2</text>
<text x="1819.0" y="810.1" font-size="19.5" text-anchor="middle">1</text>
<text x="1770.1" y="812.9" font-size="19.5" text-anchor="middle">1</text>
<text x="1738.7" y="783.4" font-size="19.5" text-anchor="middle">2</text>
<text x="1738.7" y="735.8" font-size="19.5" text-anchor="middle">1</text>
<text x="1772.5" y="703.1" font-size="19.5" text-anchor="middle">1</text>
<text x="1863.9" y="590.6" font-size="20.8">Fatty Acid</text>
<text x="1863.9" y="618.0" font-size="20.8">Omega Oxidation</text>
<text x="1950.7" y="677.8" font-size="20.8">Retinol</text>
<text x="1950.7" y="704.8" font-size="20.8">metabolism</text>
<text x="1970.6" y="818.2" font-size="20.8">Tryptophan</text>
<text x="1970.6" y="845.6" font-size="20.8">metabolism</text>
<text x="1856.0" y="879.2" font-size="20.8">Ethanol</text>
<text x="1856.0" y="906.2" font-size="20.8">metabolism</text>
<text x="1856.0" y="933.5" font-size="20.8">resulting in</text>
<text x="1856.0" y="960.1" font-size="20.8">production of ROS</text>
<text x="1492.3" y="809.6" font-size="20.8">Adipogenesis</text>
<text x="1494.3" y="837.0" font-size="20.8">genes</text>
<text x="1741.5" y="590.6" font-size="20.8" text-anchor="end">GPCRs, Class B</text>
<text x="1734.8" y="618.0" font-size="20.8" text-anchor="end">Secretin-like</text>
<text x="1741.5" y="864.3" font-size="20.8" text-anchor="end">Irinotecan</text>
<text x="1677.0" y="891.7" font-size="20.8" text-anchor="end">Pathway</text>
<text x="1576.4" y="677.4" font-size="20.8" text-anchor="end">Fatty Acid</text>
<clipPath id="clipB"><rect x="1462.2" y="680" width="200" height="40"/></clipPath>
<text x="1575.3" y="704.8" font-size="20.8" text-anchor="end" clip-path="url(#clipB)">Biosynthesis</text>
<text x="1799.4" y="996.0" font-size="20.8" text-anchor="middle">Adj. P-value</text>
<rect x="1522.5" y="1005" width="543.5" height="17.7" fill="url(#gP)" stroke="#8A8A8A" stroke-width="1.2"/>
<path d="M1661.3,1005v3.5M1661.3,1022.7v-3.5" stroke="#fff" stroke-width="1" opacity="0.8"/>
<path d="M1798.6,1005v3.5M1798.6,1022.7v-3.5" stroke="#fff" stroke-width="1" opacity="0.8"/>
<path d="M1937,1005v3.5M1937,1022.7v-3.5" stroke="#fff" stroke-width="1" opacity="0.8"/>
<text x="1656.6" y="1045.4" font-size="20.6" text-anchor="middle">0.025</text>
<text x="1789.6" y="1045.4" font-size="20.6" text-anchor="middle">0.050</text>
<text x="1946.0" y="1045.4" font-size="20.6" text-anchor="middle">0.075</text>
<text x="3.4" y="1124.3" font-size="32.5" font-weight="bold">c</text>
<g shape-rendering="geometricPrecision">
<rect x="24.50" y="1161.75" width="41.79" height="22.01" fill="#730E30"/>
<rect x="66.29" y="1161.75" width="41.79" height="22.01" fill="#730E30"/>
<rect x="108.07" y="1161.75" width="41.79" height="22.01" fill="#730E30"/>
<rect x="149.86" y="1161.75" width="41.79" height="22.01" fill="#730E30"/>
<rect x="191.64" y="1161.75" width="41.79" height="22.01" fill="#730E30"/>
<rect x="233.43" y="1161.75" width="41.79" height="22.01" fill="#730E30"/>
<rect x="275.21" y="1161.75" width="41.79" height="22.01" fill="#730E30"/>
<rect x="24.50" y="1183.76" width="41.79" height="22.01" fill="#E0964E"/>
<rect x="66.29" y="1183.76" width="41.79" height="22.01" fill="#DD5B39"/>
<rect x="108.07" y="1183.76" width="41.79" height="22.01" fill="#E1A455"/>
<rect x="149.86" y="1183.76" width="41.79" height="22.01" fill="#DF8B4A"/>
<rect x="191.64" y="1183.76" width="41.79" height="22.01" fill="#E1A053"/>
<rect x="233.43" y="1183.76" width="41.79" height="22.01" fill="#E1A455"/>
<rect x="275.21" y="1183.76" width="41.79" height="22.01" fill="#DC5437"/>
<rect x="24.50" y="1205.77" width="41.79" height="22.01" fill="#DE7140"/>
<rect x="66.29" y="1205.77" width="41.79" height="22.01" fill="#E4B860"/>
<rect x="108.07" y="1205.77" width="41.79" height="22.01" fill="#E1A253"/>
<rect x="149.86" y="1205.77" width="41.79" height="22.01" fill="#DF8B4A"/>
<rect x="191.64" y="1205.77" width="41.79" height="22.01" fill="#DE6D3E"/>
<rect x="233.43" y="1205.77" width="41.79" height="22.01" fill="#DEDEDE"/>
<rect x="275.21" y="1205.77" width="41.79" height="22.01" fill="#E3B45D"/>
<rect x="24.50" y="1227.78" width="41.79" height="22.01" fill="#E4B860"/>
<rect x="66.29" y="1227.78" width="41.79" height="22.01" fill="#E09A50"/>
<rect x="108.07" y="1227.78" width="41.79" height="22.01" fill="#E2AD59"/>
<rect x="149.86" y="1227.78" width="41.79" height="22.01" fill="#E4B860"/>
<rect x="191.64" y="1227.78" width="41.79" height="22.01" fill="#E4B860"/>
<rect x="233.43" y="1227.78" width="41.79" height="22.01" fill="#E2AD59"/>
<rect x="275.21" y="1227.78" width="41.79" height="22.01" fill="#E2A856"/>
<rect x="24.50" y="1249.79" width="41.79" height="22.01" fill="#E1A455"/>
<rect x="66.29" y="1249.79" width="41.79" height="22.01" fill="#DF8B4A"/>
<rect x="108.07" y="1249.79" width="41.79" height="22.01" fill="#DEDEDE"/>
<rect x="149.86" y="1249.79" width="41.79" height="22.01" fill="#E09A50"/>
<rect x="191.64" y="1249.79" width="41.79" height="22.01" fill="#E2A856"/>
<rect x="233.43" y="1249.79" width="41.79" height="22.01" fill="#E2AD59"/>
<rect x="275.21" y="1249.79" width="41.79" height="22.01" fill="#E2AD59"/>
<rect x="24.50" y="1271.80" width="41.79" height="22.01" fill="#E09D51"/>
<rect x="66.29" y="1271.80" width="41.79" height="22.01" fill="#E3B45D"/>
<rect x="108.07" y="1271.80" width="41.79" height="22.01" fill="#E2AA57"/>
<rect x="149.86" y="1271.80" width="41.79" height="22.01" fill="#E4B860"/>
<rect x="191.64" y="1271.80" width="41.79" height="22.01" fill="#E09D51"/>
<rect x="233.43" y="1271.80" width="41.79" height="22.01" fill="#DEDEDE"/>
<rect x="275.21" y="1271.80" width="41.79" height="22.01" fill="#DEDEDE"/>
<rect x="24.50" y="1293.81" width="41.79" height="22.01" fill="#E3B45D"/>
<rect x="66.29" y="1293.81" width="41.79" height="22.01" fill="#E3B45D"/>
<rect x="108.07" y="1293.81" width="41.79" height="22.01" fill="#E1A053"/>
<rect x="149.86" y="1293.81" width="41.79" height="22.01" fill="#E3B45D"/>
<rect x="191.64" y="1293.81" width="41.79" height="22.01" fill="#E4B860"/>
<rect x="233.43" y="1293.81" width="41.79" height="22.01" fill="#E0964E"/>
<rect x="275.21" y="1293.81" width="41.79" height="22.01" fill="#E2A856"/>
<rect x="24.50" y="1315.81" width="41.79" height="22.01" fill="#E3B45D"/>
<rect x="66.29" y="1315.81" width="41.79" height="22.01" fill="#730E30"/>
<rect x="108.07" y="1315.81" width="41.79" height="22.01" fill="#E2A856"/>
<rect x="149.86" y="1315.81" width="41.79" height="22.01" fill="#E3B45D"/>
<rect x="191.64" y="1315.81" width="41.79" height="22.01" fill="#E4B860"/>
<rect x="233.43" y="1315.81" width="41.79" height="22.01" fill="#E09A50"/>
<rect x="275.21" y="1315.81" width="41.79" height="22.01" fill="#730E30"/>
<rect x="24.50" y="1337.82" width="41.79" height="22.01" fill="#E0964E"/>
<rect x="66.29" y="1337.82" width="41.79" height="22.01" fill="#DEDEDE"/>
<rect x="108.07" y="1337.82" width="41.79" height="22.01" fill="#DEDEDE"/>
<rect x="149.86" y="1337.82" width="41.79" height="22.01" fill="#E3B45D"/>
<rect x="191.64" y="1337.82" width="41.79" height="22.01" fill="#E09A50"/>
<rect x="233.43" y="1337.82" width="41.79" height="22.01" fill="#DEDEDE"/>
<rect x="275.21" y="1337.82" width="41.79" height="22.01" fill="#DEDEDE"/>
<rect x="24.50" y="1359.83" width="41.79" height="22.01" fill="#E3B45D"/>
<rect x="66.29" y="1359.83" width="41.79" height="22.01" fill="#DD5D3A"/>
<rect x="108.07" y="1359.83" width="41.79" height="22.01" fill="#DEDEDE"/>
<rect x="149.86" y="1359.83" width="41.79" height="22.01" fill="#DEDEDE"/>
<rect x="191.64" y="1359.83" width="41.79" height="22.01" fill="#E3B45D"/>
<rect x="233.43" y="1359.83" width="41.79" height="22.01" fill="#DEDEDE"/>
<rect x="275.21" y="1359.83" width="41.79" height="22.01" fill="#E2A856"/>
<rect x="24.50" y="1381.84" width="41.79" height="22.01" fill="#E4B860"/>
<rect x="66.29" y="1381.84" width="41.79" height="22.01" fill="#DEDEDE"/>
<rect x="108.07" y="1381.84" width="41.79" height="22.01" fill="#DEDEDE"/>
<rect x="149.86" y="1381.84" width="41.79" height="22.01" fill="#E3B45D"/>
<rect x="191.64" y="1381.84" width="41.79" height="22.01" fill="#E3B45D"/>
<rect x="233.43" y="1381.84" width="41.79" height="22.01" fill="#E2AA57"/>
<rect x="275.21" y="1381.84" width="41.79" height="22.01" fill="#DEDEDE"/>
<rect x="24.50" y="1403.85" width="41.79" height="22.01" fill="#E4B860"/>
<rect x="66.29" y="1403.85" width="41.79" height="22.01" fill="#E1A655"/>
<rect x="108.07" y="1403.85" width="41.79" height="22.01" fill="#DEDEDE"/>
<rect x="149.86" y="1403.85" width="41.79" height="22.01" fill="#DEDEDE"/>
<rect x="191.64" y="1403.85" width="41.79" height="22.01" fill="#E4B860"/>
<rect x="233.43" y="1403.85" width="41.79" height="22.01" fill="#E2AA57"/>
<rect x="275.21" y="1403.85" width="41.79" height="22.01" fill="#E1A253"/>
<rect x="24.50" y="1425.86" width="41.79" height="22.01" fill="#DEDEDE"/>
<rect x="66.29" y="1425.86" width="41.79" height="22.01" fill="#E1A253"/>
<rect x="108.07" y="1425.86" width="41.79" height="22.01" fill="#DEDEDE"/>
<rect x="149.86" y="1425.86" width="41.79" height="22.01" fill="#DEDEDE"/>
<rect x="191.64" y="1425.86" width="41.79" height="22.01" fill="#DEDEDE"/>
<rect x="233.43" y="1425.86" width="41.79" height="22.01" fill="#DEDEDE"/>
<rect x="275.21" y="1425.86" width="41.79" height="22.01" fill="#E3B45D"/>
<rect x="24.50" y="1447.87" width="41.79" height="22.01" fill="#DEDEDE"/>
<rect x="66.29" y="1447.87" width="41.79" height="22.01" fill="#E0914C"/>
<rect x="108.07" y="1447.87" width="41.79" height="22.01" fill="#DEDEDE"/>
<rect x="149.86" y="1447.87" width="41.79" height="22.01" fill="#DEDEDE"/>
<rect x="191.64" y="1447.87" width="41.79" height="22.01" fill="#DEDEDE"/>
<rect x="233.43" y="1447.87" width="41.79" height="22.01" fill="#E2AD59"/>
<rect x="275.21" y="1447.87" width="41.79" height="22.01" fill="#E09A50"/>
<rect x="24.50" y="1469.88" width="41.79" height="22.01" fill="#DEDEDE"/>
<rect x="66.29" y="1469.88" width="41.79" height="22.01" fill="#E1A253"/>
<rect x="108.07" y="1469.88" width="41.79" height="22.01" fill="#DEDEDE"/>
<rect x="149.86" y="1469.88" width="41.79" height="22.01" fill="#DEDEDE"/>
<rect x="191.64" y="1469.88" width="41.79" height="22.01" fill="#DEDEDE"/>
<rect x="233.43" y="1469.88" width="41.79" height="22.01" fill="#DEDEDE"/>
<rect x="275.21" y="1469.88" width="41.79" height="22.01" fill="#DEDEDE"/>
<rect x="24.50" y="1491.89" width="41.79" height="22.01" fill="#DEDEDE"/>
<rect x="66.29" y="1491.89" width="41.79" height="22.01" fill="#E3B45D"/>
<rect x="108.07" y="1491.89" width="41.79" height="22.01" fill="#DEDEDE"/>
<rect x="149.86" y="1491.89" width="41.79" height="22.01" fill="#DEDEDE"/>
<rect x="191.64" y="1491.89" width="41.79" height="22.01" fill="#DEDEDE"/>
<rect x="233.43" y="1491.89" width="41.79" height="22.01" fill="#DEDEDE"/>
<rect x="275.21" y="1491.89" width="41.79" height="22.01" fill="#E2A856"/>
<rect x="24.50" y="1513.90" width="41.79" height="22.01" fill="#DEDEDE"/>
<rect x="66.29" y="1513.90" width="41.79" height="22.01" fill="#E3B45D"/>
<rect x="108.07" y="1513.90" width="41.79" height="22.01" fill="#DEDEDE"/>
<rect x="149.86" y="1513.90" width="41.79" height="22.01" fill="#DEDEDE"/>
<rect x="191.64" y="1513.90" width="41.79" height="22.01" fill="#DEDEDE"/>
<rect x="233.43" y="1513.90" width="41.79" height="22.01" fill="#DEDEDE"/>
<rect x="275.21" y="1513.90" width="41.79" height="22.01" fill="#E09A50"/>
<rect x="24.50" y="1535.91" width="41.79" height="22.01" fill="#DEDEDE"/>
<rect x="66.29" y="1535.91" width="41.79" height="22.01" fill="#E3B45D"/>
<rect x="108.07" y="1535.91" width="41.79" height="22.01" fill="#DEDEDE"/>
<rect x="149.86" y="1535.91" width="41.79" height="22.01" fill="#DEDEDE"/>
<rect x="191.64" y="1535.91" width="41.79" height="22.01" fill="#DEDEDE"/>
<rect x="233.43" y="1535.91" width="41.79" height="22.01" fill="#DEDEDE"/>
<rect x="275.21" y="1535.91" width="41.79" height="22.01" fill="#E09A50"/>
<rect x="24.50" y="1557.92" width="41.79" height="22.01" fill="#DEDEDE"/>
<rect x="66.29" y="1557.92" width="41.79" height="22.01" fill="#E3B45D"/>
<rect x="108.07" y="1557.92" width="41.79" height="22.01" fill="#DEDEDE"/>
<rect x="149.86" y="1557.92" width="41.79" height="22.01" fill="#DEDEDE"/>
<rect x="191.64" y="1557.92" width="41.79" height="22.01" fill="#DEDEDE"/>
<rect x="233.43" y="1557.92" width="41.79" height="22.01" fill="#DEDEDE"/>
<rect x="275.21" y="1557.92" width="41.79" height="22.01" fill="#E2A856"/>
<rect x="24.50" y="1579.93" width="41.79" height="22.01" fill="#DEDEDE"/>
<rect x="66.29" y="1579.93" width="41.79" height="22.01" fill="#E3B45D"/>
<rect x="108.07" y="1579.93" width="41.79" height="22.01" fill="#DEDEDE"/>
<rect x="149.86" y="1579.93" width="41.79" height="22.01" fill="#DEDEDE"/>
<rect x="191.64" y="1579.93" width="41.79" height="22.01" fill="#DEDEDE"/>
<rect x="233.43" y="1579.93" width="41.79" height="22.01" fill="#DEDEDE"/>
<rect x="275.21" y="1579.93" width="41.79" height="22.01" fill="#DEDEDE"/>
<rect x="24.50" y="1601.94" width="41.79" height="22.01" fill="#DEDEDE"/>
<rect x="66.29" y="1601.94" width="41.79" height="22.01" fill="#E6C468"/>
<rect x="108.07" y="1601.94" width="41.79" height="22.01" fill="#E2AD59"/>
<rect x="149.86" y="1601.94" width="41.79" height="22.01" fill="#DEDEDE"/>
<rect x="191.64" y="1601.94" width="41.79" height="22.01" fill="#DEDEDE"/>
<rect x="233.43" y="1601.94" width="41.79" height="22.01" fill="#E2A856"/>
<rect x="275.21" y="1601.94" width="41.79" height="22.01" fill="#E3B45D"/>
<rect x="24.50" y="1623.94" width="41.79" height="22.01" fill="#DEDEDE"/>
<rect x="66.29" y="1623.94" width="41.79" height="22.01" fill="#DEDEDE"/>
<rect x="108.07" y="1623.94" width="41.79" height="22.01" fill="#E2A856"/>
<rect x="149.86" y="1623.94" width="41.79" height="22.01" fill="#DEDEDE"/>
<rect x="191.64" y="1623.94" width="41.79" height="22.01" fill="#DEDEDE"/>
<rect x="233.43" y="1623.94" width="41.79" height="22.01" fill="#DEDEDE"/>
<rect x="275.21" y="1623.94" width="41.79" height="22.01" fill="#DEDEDE"/>
<rect x="24.50" y="1645.95" width="41.79" height="22.01" fill="#DEDEDE"/>
<rect x="66.29" y="1645.95" width="41.79" height="22.01" fill="#DEDEDE"/>
<rect x="108.07" y="1645.95" width="41.79" height="22.01" fill="#DEDEDE"/>
<rect x="149.86" y="1645.95" width="41.79" height="22.01" fill="#DEDEDE"/>
<rect x="191.64" y="1645.95" width="41.79" height="22.01" fill="#DEDEDE"/>
<rect x="233.43" y="1645.95" width="41.79" height="22.01" fill="#DEDEDE"/>
<rect x="275.21" y="1645.95" width="41.79" height="22.01" fill="#E3B45D"/>
<rect x="24.50" y="1667.96" width="41.79" height="22.01" fill="#DEDEDE"/>
<rect x="66.29" y="1667.96" width="41.79" height="22.01" fill="#DEDEDE"/>
<rect x="108.07" y="1667.96" width="41.79" height="22.01" fill="#DEDEDE"/>
<rect x="149.86" y="1667.96" width="41.79" height="22.01" fill="#DEDEDE"/>
<rect x="191.64" y="1667.96" width="41.79" height="22.01" fill="#DEDEDE"/>
<rect x="233.43" y="1667.96" width="41.79" height="22.01" fill="#DEDEDE"/>
<rect x="275.21" y="1667.96" width="41.79" height="22.01" fill="#E4BC62"/>
<rect x="24.50" y="1689.97" width="41.79" height="22.01" fill="#DEDEDE"/>
<rect x="66.29" y="1689.97" width="41.79" height="22.01" fill="#DEDEDE"/>
<rect x="108.07" y="1689.97" width="41.79" height="22.01" fill="#DEDEDE"/>
<rect x="149.86" y="1689.97" width="41.79" height="22.01" fill="#DE623B"/>
<rect x="191.64" y="1689.97" width="41.79" height="22.01" fill="#DEDEDE"/>
<rect x="233.43" y="1689.97" width="41.79" height="22.01" fill="#DEDEDE"/>
<rect x="275.21" y="1689.97" width="41.79" height="22.01" fill="#DEDEDE"/>
<rect x="24.50" y="1711.98" width="41.79" height="22.01" fill="#DEDEDE"/>
<rect x="66.29" y="1711.98" width="41.79" height="22.01" fill="#DEDEDE"/>
<rect x="108.07" y="1711.98" width="41.79" height="22.01" fill="#DEDEDE"/>
<rect x="149.86" y="1711.98" width="41.79" height="22.01" fill="#E3B45D"/>
<rect x="191.64" y="1711.98" width="41.79" height="22.01" fill="#DEDEDE"/>
<rect x="233.43" y="1711.98" width="41.79" height="22.01" fill="#DEDEDE"/>
<rect x="275.21" y="1711.98" width="41.79" height="22.01" fill="#DEDEDE"/>
<rect x="24.50" y="1733.99" width="41.79" height="22.01" fill="#DEDEDE"/>
<rect x="66.29" y="1733.99" width="41.79" height="22.01" fill="#DEDEDE"/>
<rect x="108.07" y="1733.99" width="41.79" height="22.01" fill="#DEDEDE"/>
<rect x="149.86" y="1733.99" width="41.79" height="22.01" fill="#E4BC62"/>
<rect x="191.64" y="1733.99" width="41.79" height="22.01" fill="#DEDEDE"/>
<rect x="233.43" y="1733.99" width="41.79" height="22.01" fill="#DEDEDE"/>
<rect x="275.21" y="1733.99" width="41.79" height="22.01" fill="#DEDEDE"/>
<path d="M24.50,1161.75H317.00M24.50,1183.76H317.00M24.50,1205.77H317.00M24.50,1227.78H317.00M24.50,1249.79H317.00M24.50,1271.80H317.00M24.50,1293.81H317.00M24.50,1315.81H317.00M24.50,1337.82H317.00M24.50,1359.83H317.00M24.50,1381.84H317.00M24.50,1403.85H317.00M24.50,1425.86H317.00M24.50,1447.87H317.00M24.50,1469.88H317.00M24.50,1491.89H317.00M24.50,1513.90H317.00M24.50,1535.91H317.00M24.50,1557.92H317.00M24.50,1579.93H317.00M24.50,1601.94H317.00M24.50,1623.94H317.00M24.50,1645.95H317.00M24.50,1667.96H317.00M24.50,1689.97H317.00M24.50,1711.98H317.00M24.50,1733.99H317.00M24.50,1756.00H317.00M24.50,1161.75V1756.00M66.29,1161.75V1756.00M108.07,1161.75V1756.00M149.86,1161.75V1756.00M191.64,1161.75V1756.00M233.43,1161.75V1756.00M275.21,1161.75V1756.00M317.00,1161.75V1756.00" stroke="#000" stroke-width="1.8" fill="none" stroke-linecap="square"/>
</g>
<text x="323.5" y="1181.3" font-size="20.85">Lysosome</text>
<text x="323.5" y="1203.3" font-size="20.85">Phagosome</text>
<text x="323.5" y="1225.3" font-size="20.85">Cholesterol metabolism</text>
<text x="323.5" y="1247.3" font-size="20.85">Tuberculosis</text>
<text x="323.5" y="1269.3" font-size="20.85">Rheumatoid arthritis</text>
<text x="323.5" y="1291.3" font-size="20.85">Ferroptosis</text>
<text x="323.5" y="1313.3" font-size="20.85">Apoptosis</text>
<text x="323.5" y="1335.3" font-size="20.85">Antigen processing and presentation</text>
<text x="323.5" y="1357.3" font-size="20.85">Glycosaminoglycan degradation</text>
<text x="323.5" y="1379.3" font-size="20.85">Leishmaniasis</text>
<text x="323.5" y="1401.3" font-size="20.85">Osteoclast differentiation</text>
<text x="323.5" y="1423.4" font-size="20.85">Complement and coagulation cascades</text>
<text x="323.5" y="1445.4" font-size="20.85">Systemic lupus erythematosus</text>
<text x="323.5" y="1467.4" font-size="20.85">Pertussis</text>
<text x="323.5" y="1489.4" font-size="20.85">Hematopoietic cell lineage</text>
<text x="323.5" y="1511.4" font-size="20.85">Cell adhesion molecules (CAMs)</text>
<text x="323.5" y="1533.4" font-size="20.85">Type I diabetes mellitus</text>
<text x="323.5" y="1555.4" font-size="20.85">Autoimmune thyroid disease</text>
<text x="323.5" y="1577.4" font-size="20.85">Epstein<tspan style="font-size:88%" dy="0.02em">−</tspan><tspan dy="-0.02em">Barr virus infection</tspan></text>
<text x="323.5" y="1599.4" font-size="20.85">Inflammatory bowel disease (IBD)</text>
<text x="323.5" y="1621.4" font-size="20.85">Autophagy</text>
<text x="323.5" y="1643.4" font-size="20.85">Mineral absorption</text>
<text x="323.5" y="1665.5" font-size="20.85">Natural killer cell mediated cytotoxicity</text>
<text x="323.5" y="1687.5" font-size="20.85">Human immunodeficiency virus 1 infection</text>
<text x="323.5" y="1709.5" font-size="20.85">Collecting duct acid secretion</text>
<text x="323.5" y="1731.5" font-size="20.85">Synaptic vesicle cycle</text>
<text x="323.5" y="1753.5" font-size="20.85">Oxidative phosphorylation</text>
<text transform="translate(38.0,1763.7) rotate(90)" font-size="20.4">Adipocytes</text>
<text transform="translate(79.8,1763.7) rotate(90)" font-size="20.4">APC</text>
<text transform="translate(121.6,1763.7) rotate(90)" font-size="20.4">LAM</text>
<text transform="translate(163.4,1763.7) rotate(90)" font-size="20.4">NPVM</text>
<text transform="translate(205.2,1763.7) rotate(90)" font-size="20.4">PVM</text>
<text transform="translate(247.0,1763.7) rotate(90)" font-size="20.4">EndoC</text>
<text transform="translate(288.8,1763.7) rotate(90)" font-size="20.4">MesoC</text>
<text x="683.2" y="1139.2" font-size="20.8">Enrichment</text>
<text x="683.2" y="1157.8" font-size="20.8">Score</text>
<rect x="752.8" y="1161.8" width="20.8" height="329.9" fill="url(#gY)"/>
<text x="781.5" y="1170.7" font-size="20.8">2</text>
<text x="781.5" y="1253.5" font-size="20.8">1</text>
<text x="781.5" y="1334.0" font-size="20.8">0</text>
<text x="781.5" y="1415.6" font-size="20.8"><tspan style="font-size:88%" dy="0.02em">−</tspan><tspan dy="-0.02em">1</tspan></text>
<text x="781.5" y="1488.8" font-size="20.8"><tspan style="font-size:88%" dy="0.02em">−</tspan><tspan dy="-0.02em">2</tspan></text>
<text x="829.4" y="1125.2" font-size="32.5" font-weight="bold">d</text>
<g shape-rendering="geometricPrecision">
<rect x="852.90" y="1158.60" width="60.49" height="31.92" fill="#D63D31"/>
<rect x="913.39" y="1158.60" width="60.49" height="31.92" fill="#D63D31"/>
<rect x="973.87" y="1158.60" width="60.49" height="31.92" fill="#DF8045"/>
<rect x="1034.36" y="1158.60" width="60.49" height="31.92" fill="#730E30"/>
<rect x="1094.84" y="1158.60" width="60.49" height="31.92" fill="#AE1E30"/>
<rect x="1155.33" y="1158.60" width="60.49" height="31.92" fill="#8E1330"/>
<rect x="1215.81" y="1158.60" width="60.49" height="31.92" fill="#730E30"/>
<rect x="852.90" y="1190.52" width="60.49" height="31.92" fill="#E6C96B"/>
<rect x="913.39" y="1190.52" width="60.49" height="31.92" fill="#DEDEDE"/>
<rect x="973.87" y="1190.52" width="60.49" height="31.92" fill="#DEDEDE"/>
<rect x="1034.36" y="1190.52" width="60.49" height="31.92" fill="#DEDEDE"/>
<rect x="1094.84" y="1190.52" width="60.49" height="31.92" fill="#E2AD59"/>
<rect x="1155.33" y="1190.52" width="60.49" height="31.92" fill="#E0964E"/>
<rect x="1215.81" y="1190.52" width="60.49" height="31.92" fill="#DF8045"/>
<rect x="852.90" y="1222.44" width="60.49" height="31.92" fill="#DEDEDE"/>
<rect x="913.39" y="1222.44" width="60.49" height="31.92" fill="#E6C96B"/>
<rect x="973.87" y="1222.44" width="60.49" height="31.92" fill="#E5C165"/>
<rect x="1034.36" y="1222.44" width="60.49" height="31.92" fill="#EAD97C"/>
<rect x="1094.84" y="1222.44" width="60.49" height="31.92" fill="#E5C165"/>
<rect x="1155.33" y="1222.44" width="60.49" height="31.92" fill="#E6C96B"/>
<rect x="1215.81" y="1222.44" width="60.49" height="31.92" fill="#E3B45D"/>
<rect x="852.90" y="1254.35" width="60.49" height="31.92" fill="#DEDEDE"/>
<rect x="913.39" y="1254.35" width="60.49" height="31.92" fill="#DEDEDE"/>
<rect x="973.87" y="1254.35" width="60.49" height="31.92" fill="#DEDEDE"/>
<rect x="1034.36" y="1254.35" width="60.49" height="31.92" fill="#DEDEDE"/>
<rect x="1094.84" y="1254.35" width="60.49" height="31.92" fill="#DEDEDE"/>
<rect x="1155.33" y="1254.35" width="60.49" height="31.92" fill="#E2A957"/>
<rect x="1215.81" y="1254.35" width="60.49" height="31.92" fill="#E09A50"/>
<rect x="852.90" y="1286.27" width="60.49" height="31.92" fill="#DEDEDE"/>
<rect x="913.39" y="1286.27" width="60.49" height="31.92" fill="#DEDEDE"/>
<rect x="973.87" y="1286.27" width="60.49" height="31.92" fill="#DEDEDE"/>
<rect x="1034.36" y="1286.27" width="60.49" height="31.92" fill="#DEDEDE"/>
<rect x="1094.84" y="1286.27" width="60.49" height="31.92" fill="#DEDEDE"/>
<rect x="1155.33" y="1286.27" width="60.49" height="31.92" fill="#E5C266"/>
<rect x="1215.81" y="1286.27" width="60.49" height="31.92" fill="#E2AD59"/>
<rect x="852.90" y="1318.19" width="60.49" height="31.92" fill="#DEDEDE"/>
<rect x="913.39" y="1318.19" width="60.49" height="31.92" fill="#DEDEDE"/>
<rect x="973.87" y="1318.19" width="60.49" height="31.92" fill="#7D1030"/>
<rect x="1034.36" y="1318.19" width="60.49" height="31.92" fill="#AE1E30"/>
<rect x="1094.84" y="1318.19" width="60.49" height="31.92" fill="#DEDEDE"/>
<rect x="1155.33" y="1318.19" width="60.49" height="31.92" fill="#DEDEDE"/>
<rect x="1215.81" y="1318.19" width="60.49" height="31.92" fill="#DEDEDE"/>
<rect x="852.90" y="1350.11" width="60.49" height="31.92" fill="#DEDEDE"/>
<rect x="913.39" y="1350.11" width="60.49" height="31.92" fill="#DEDEDE"/>
<rect x="973.87" y="1350.11" width="60.49" height="31.92" fill="#E2A957"/>
<rect x="1034.36" y="1350.11" width="60.49" height="31.92" fill="#E2A957"/>
<rect x="1094.84" y="1350.11" width="60.49" height="31.92" fill="#DEDEDE"/>
<rect x="1155.33" y="1350.11" width="60.49" height="31.92" fill="#DEDEDE"/>
<rect x="1215.81" y="1350.11" width="60.49" height="31.92" fill="#DEDEDE"/>
<rect x="852.90" y="1382.02" width="60.49" height="31.92" fill="#DEDEDE"/>
<rect x="913.39" y="1382.02" width="60.49" height="31.92" fill="#DEDEDE"/>
<rect x="973.87" y="1382.02" width="60.49" height="31.92" fill="#E3B45D"/>
<rect x="1034.36" y="1382.02" width="60.49" height="31.92" fill="#E09A50"/>
<rect x="1094.84" y="1382.02" width="60.49" height="31.92" fill="#DEDEDE"/>
<rect x="1155.33" y="1382.02" width="60.49" height="31.92" fill="#DEDEDE"/>
<rect x="1215.81" y="1382.02" width="60.49" height="31.92" fill="#DEDEDE"/>
<rect x="852.90" y="1413.94" width="60.49" height="31.92" fill="#DEDEDE"/>
<rect x="913.39" y="1413.94" width="60.49" height="31.92" fill="#DEDEDE"/>
<rect x="973.87" y="1413.94" width="60.49" height="31.92" fill="#E6C96B"/>
<rect x="1034.36" y="1413.94" width="60.49" height="31.92" fill="#DEDEDE"/>
<rect x="1094.84" y="1413.94" width="60.49" height="31.92" fill="#DEDEDE"/>
<rect x="1155.33" y="1413.94" width="60.49" height="31.92" fill="#DEDEDE"/>
<rect x="1215.81" y="1413.94" width="60.49" height="31.92" fill="#DEDEDE"/>
<rect x="852.90" y="1445.86" width="60.49" height="31.92" fill="#DEDEDE"/>
<rect x="913.39" y="1445.86" width="60.49" height="31.92" fill="#DEDEDE"/>
<rect x="973.87" y="1445.86" width="60.49" height="31.92" fill="#DEDEDE"/>
<rect x="1034.36" y="1445.86" width="60.49" height="31.92" fill="#DEDEDE"/>
<rect x="1094.84" y="1445.86" width="60.49" height="31.92" fill="#DEDEDE"/>
<rect x="1155.33" y="1445.86" width="60.49" height="31.92" fill="#DEDEDE"/>
<rect x="1215.81" y="1445.86" width="60.49" height="31.92" fill="#E4B860"/>
<rect x="852.90" y="1477.78" width="60.49" height="31.92" fill="#DEDEDE"/>
<rect x="913.39" y="1477.78" width="60.49" height="31.92" fill="#DEDEDE"/>
<rect x="973.87" y="1477.78" width="60.49" height="31.92" fill="#DEDEDE"/>
<rect x="1034.36" y="1477.78" width="60.49" height="31.92" fill="#DEDEDE"/>
<rect x="1094.84" y="1477.78" width="60.49" height="31.92" fill="#DEDEDE"/>
<rect x="1155.33" y="1477.78" width="60.49" height="31.92" fill="#DEDEDE"/>
<rect x="1215.81" y="1477.78" width="60.49" height="31.92" fill="#E4B860"/>
<rect x="852.90" y="1509.69" width="60.49" height="31.92" fill="#DEDEDE"/>
<rect x="913.39" y="1509.69" width="60.49" height="31.92" fill="#DEDEDE"/>
<rect x="973.87" y="1509.69" width="60.49" height="31.92" fill="#DEDEDE"/>
<rect x="1034.36" y="1509.69" width="60.49" height="31.92" fill="#DEDEDE"/>
<rect x="1094.84" y="1509.69" width="60.49" height="31.92" fill="#DEDEDE"/>
<rect x="1155.33" y="1509.69" width="60.49" height="31.92" fill="#DEDEDE"/>
<rect x="1215.81" y="1509.69" width="60.49" height="31.92" fill="#E4B860"/>
<rect x="852.90" y="1541.61" width="60.49" height="31.92" fill="#DEDEDE"/>
<rect x="913.39" y="1541.61" width="60.49" height="31.92" fill="#DEDEDE"/>
<rect x="973.87" y="1541.61" width="60.49" height="31.92" fill="#DEDEDE"/>
<rect x="1034.36" y="1541.61" width="60.49" height="31.92" fill="#E0964E"/>
<rect x="1094.84" y="1541.61" width="60.49" height="31.92" fill="#E2A957"/>
<rect x="1155.33" y="1541.61" width="60.49" height="31.92" fill="#DEDEDE"/>
<rect x="1215.81" y="1541.61" width="60.49" height="31.92" fill="#DEDEDE"/>
<rect x="852.90" y="1573.53" width="60.49" height="31.92" fill="#DEDEDE"/>
<rect x="913.39" y="1573.53" width="60.49" height="31.92" fill="#DEDEDE"/>
<rect x="973.87" y="1573.53" width="60.49" height="31.92" fill="#DEDEDE"/>
<rect x="1034.36" y="1573.53" width="60.49" height="31.92" fill="#E2A957"/>
<rect x="1094.84" y="1573.53" width="60.49" height="31.92" fill="#DEDEDE"/>
<rect x="1155.33" y="1573.53" width="60.49" height="31.92" fill="#DEDEDE"/>
<rect x="1215.81" y="1573.53" width="60.49" height="31.92" fill="#DEDEDE"/>
<rect x="852.90" y="1605.45" width="60.49" height="31.92" fill="#DEDEDE"/>
<rect x="913.39" y="1605.45" width="60.49" height="31.92" fill="#DEDEDE"/>
<rect x="973.87" y="1605.45" width="60.49" height="31.92" fill="#DEDEDE"/>
<rect x="1034.36" y="1605.45" width="60.49" height="31.92" fill="#E0964E"/>
<rect x="1094.84" y="1605.45" width="60.49" height="31.92" fill="#DEDEDE"/>
<rect x="1155.33" y="1605.45" width="60.49" height="31.92" fill="#DEDEDE"/>
<rect x="1215.81" y="1605.45" width="60.49" height="31.92" fill="#DEDEDE"/>
<rect x="852.90" y="1637.36" width="60.49" height="31.92" fill="#DEDEDE"/>
<rect x="913.39" y="1637.36" width="60.49" height="31.92" fill="#DEDEDE"/>
<rect x="973.87" y="1637.36" width="60.49" height="31.92" fill="#DEDEDE"/>
<rect x="1034.36" y="1637.36" width="60.49" height="31.92" fill="#E8CF72"/>
<rect x="1094.84" y="1637.36" width="60.49" height="31.92" fill="#DEDEDE"/>
<rect x="1155.33" y="1637.36" width="60.49" height="31.92" fill="#DEDEDE"/>
<rect x="1215.81" y="1637.36" width="60.49" height="31.92" fill="#DEDEDE"/>
<rect x="852.90" y="1669.28" width="60.49" height="31.92" fill="#DEDEDE"/>
<rect x="913.39" y="1669.28" width="60.49" height="31.92" fill="#DEDEDE"/>
<rect x="973.87" y="1669.28" width="60.49" height="31.92" fill="#DEDEDE"/>
<rect x="1034.36" y="1669.28" width="60.49" height="31.92" fill="#E9D577"/>
<rect x="1094.84" y="1669.28" width="60.49" height="31.92" fill="#DEDEDE"/>
<rect x="1155.33" y="1669.28" width="60.49" height="31.92" fill="#DEDEDE"/>
<rect x="1215.81" y="1669.28" width="60.49" height="31.92" fill="#DEDEDE"/>
<path d="M852.90,1158.60H1276.30M852.90,1190.52H1276.30M852.90,1222.44H1276.30M852.90,1254.35H1276.30M852.90,1286.27H1276.30M852.90,1318.19H1276.30M852.90,1350.11H1276.30M852.90,1382.02H1276.30M852.90,1413.94H1276.30M852.90,1445.86H1276.30M852.90,1477.78H1276.30M852.90,1509.69H1276.30M852.90,1541.61H1276.30M852.90,1573.53H1276.30M852.90,1605.45H1276.30M852.90,1637.36H1276.30M852.90,1669.28H1276.30M852.90,1701.20H1276.30M852.90,1158.60V1701.20M913.39,1158.60V1701.20M973.87,1158.60V1701.20M1034.36,1158.60V1701.20M1094.84,1158.60V1701.20M1155.33,1158.60V1701.20M1215.81,1158.60V1701.20M1276.30,1158.60V1701.20" stroke="#000" stroke-width="1.8" fill="none" stroke-linecap="square"/>
</g>
<text x="1282.3" y="1182.9" font-size="20.1">Lysosome</text>
<text x="1282.3" y="1214.8" font-size="20.1">Apoptosis</text>
<text x="1282.3" y="1246.7" font-size="20.1">Tuberculosis</text>
<text x="1282.3" y="1278.6" font-size="20.1">Antigen processing and presentation</text>
<text x="1282.3" y="1310.5" font-size="20.1">Autophagy</text>
<text x="1282.3" y="1342.4" font-size="20.1">Collecting duct acid secretion</text>
<text x="1282.3" y="1374.4" font-size="20.1">Synaptic vesicle cycle</text>
<text x="1282.3" y="1406.3" font-size="20.1">Rheumatoid arthritis</text>
<text x="1282.3" y="1438.2" font-size="20.1">Oxidative phosphorylation</text>
<text x="1282.3" y="1470.1" font-size="20.1">Renin secretion</text>
<text x="1282.3" y="1502.0" font-size="20.1">Sphingolipid signaling pathway</text>
<text x="1282.3" y="1534.0" font-size="20.1">Estrogen signaling pathway</text>
<text x="1282.3" y="1565.9" font-size="20.1">Osteoclast differentiation</text>
<text x="1282.3" y="1597.8" font-size="20.1">Phagosome</text>
<text x="1282.3" y="1629.7" font-size="20.1">Cholesterol metabolism</text>
<text x="1282.3" y="1661.6" font-size="20.1">Dilated cardiomyopathy (DCM)</text>
<text x="1282.3" y="1693.5" font-size="20.1">Cell adhesion molecules (CAMs)</text>
<text transform="translate(875.9,1708.6) rotate(90)" font-size="20.0">Adipocytes</text>
<text transform="translate(936.4,1708.6) rotate(90)" font-size="20.0">APC</text>
<text transform="translate(996.9,1708.6) rotate(90)" font-size="20.0">LAM</text>
<text transform="translate(1057.4,1708.6) rotate(90)" font-size="20.0">NPVM</text>
<text transform="translate(1117.9,1708.6) rotate(90)" font-size="20.0">PVM</text>
<text transform="translate(1178.4,1708.6) rotate(90)" font-size="20.0">EndoC</text>
<text transform="translate(1238.9,1708.6) rotate(90)" font-size="20.0">MesoC</text>
<text x="1557.1" y="1140.0" font-size="20.8">Enrichment</text>
<text x="1557.1" y="1158.6" font-size="20.8">Score</text>
<rect x="1623.4" y="1158.6" width="20.3" height="319.1" fill="url(#gY)"/>
<text x="1651.4" y="1167.4" font-size="20.8">2</text>
<text x="1651.4" y="1246.5" font-size="20.8">1</text>
<text x="1651.4" y="1326.0" font-size="20.8">0</text>
<text x="1651.4" y="1406.0" font-size="20.8"><tspan style="font-size:88%" dy="0.02em">−</tspan><tspan dy="-0.02em">1</tspan></text>
<text x="1651.4" y="1486.0" font-size="20.8"><tspan style="font-size:88%" dy="0.02em">−</tspan><tspan dy="-0.02em">2</tspan></text>
<text x="3.4" y="1930.3" font-size="32.5" font-weight="bold">e</text>
<g shape-rendering="geometricPrecision">
<rect x="19.50" y="1949.25" width="41.86" height="22.10" fill="#DE623B"/>
<rect x="61.36" y="1949.25" width="41.86" height="22.10" fill="#DEDEDE"/>
<rect x="103.21" y="1949.25" width="41.86" height="22.10" fill="#DEDEDE"/>
<rect x="145.07" y="1949.25" width="41.86" height="22.10" fill="#DEDEDE"/>
<rect x="186.93" y="1949.25" width="41.86" height="22.10" fill="#DEDEDE"/>
<rect x="228.79" y="1949.25" width="41.86" height="22.10" fill="#DEDEDE"/>
<rect x="270.64" y="1949.25" width="41.86" height="22.10" fill="#DEDEDE"/>
<rect x="19.50" y="1971.35" width="41.86" height="22.10" fill="#DEDEDE"/>
<rect x="61.36" y="1971.35" width="41.86" height="22.10" fill="#DEDEDE"/>
<rect x="103.21" y="1971.35" width="41.86" height="22.10" fill="#E0964E"/>
<rect x="145.07" y="1971.35" width="41.86" height="22.10" fill="#DEDEDE"/>
<rect x="186.93" y="1971.35" width="41.86" height="22.10" fill="#A91C30"/>
<rect x="228.79" y="1971.35" width="41.86" height="22.10" fill="#D74132"/>
<rect x="270.64" y="1971.35" width="41.86" height="22.10" fill="#DF7541"/>
<rect x="19.50" y="1993.45" width="41.86" height="22.10" fill="#DEDEDE"/>
<rect x="61.36" y="1993.45" width="41.86" height="22.10" fill="#DEDEDE"/>
<rect x="103.21" y="1993.45" width="41.86" height="22.10" fill="#DE6F3F"/>
<rect x="145.07" y="1993.45" width="41.86" height="22.10" fill="#E0984F"/>
<rect x="186.93" y="1993.45" width="41.86" height="22.10" fill="#D63C30"/>
<rect x="228.79" y="1993.45" width="41.86" height="22.10" fill="#D73F32"/>
<rect x="270.64" y="1993.45" width="41.86" height="22.10" fill="#DF8045"/>
<rect x="19.50" y="2015.54" width="41.86" height="22.10" fill="#DEDEDE"/>
<rect x="61.36" y="2015.54" width="41.86" height="22.10" fill="#DEDEDE"/>
<rect x="103.21" y="2015.54" width="41.86" height="22.10" fill="#DE6D3E"/>
<rect x="145.07" y="2015.54" width="41.86" height="22.10" fill="#DA4A35"/>
<rect x="186.93" y="2015.54" width="41.86" height="22.10" fill="#DEDEDE"/>
<rect x="228.79" y="2015.54" width="41.86" height="22.10" fill="#D63C30"/>
<rect x="270.64" y="2015.54" width="41.86" height="22.10" fill="#DEDEDE"/>
<rect x="19.50" y="2037.64" width="41.86" height="22.10" fill="#DEDEDE"/>
<rect x="61.36" y="2037.64" width="41.86" height="22.10" fill="#DEDEDE"/>
<rect x="103.21" y="2037.64" width="41.86" height="22.10" fill="#D63C30"/>
<rect x="145.07" y="2037.64" width="41.86" height="22.10" fill="#DEDEDE"/>
<rect x="186.93" y="2037.64" width="41.86" height="22.10" fill="#DEDEDE"/>
<rect x="228.79" y="2037.64" width="41.86" height="22.10" fill="#DC5236"/>
<rect x="270.64" y="2037.64" width="41.86" height="22.10" fill="#DEDEDE"/>
<rect x="19.50" y="2059.74" width="41.86" height="22.10" fill="#E0984F"/>
<rect x="61.36" y="2059.74" width="41.86" height="22.10" fill="#DEDEDE"/>
<rect x="103.21" y="2059.74" width="41.86" height="22.10" fill="#DE643C"/>
<rect x="145.07" y="2059.74" width="41.86" height="22.10" fill="#DEDEDE"/>
<rect x="186.93" y="2059.74" width="41.86" height="22.10" fill="#DEDEDE"/>
<rect x="228.79" y="2059.74" width="41.86" height="22.10" fill="#DE7140"/>
<rect x="270.64" y="2059.74" width="41.86" height="22.10" fill="#DF7541"/>
<rect x="19.50" y="2081.84" width="41.86" height="22.10" fill="#DEDEDE"/>
<rect x="61.36" y="2081.84" width="41.86" height="22.10" fill="#DEDEDE"/>
<rect x="103.21" y="2081.84" width="41.86" height="22.10" fill="#DB4C35"/>
<rect x="145.07" y="2081.84" width="41.86" height="22.10" fill="#DEDEDE"/>
<rect x="186.93" y="2081.84" width="41.86" height="22.10" fill="#DC5437"/>
<rect x="228.79" y="2081.84" width="41.86" height="22.10" fill="#E0944D"/>
<rect x="270.64" y="2081.84" width="41.86" height="22.10" fill="#D53A30"/>
<rect x="19.50" y="2103.94" width="41.86" height="22.10" fill="#DEDEDE"/>
<rect x="61.36" y="2103.94" width="41.86" height="22.10" fill="#DEDEDE"/>
<rect x="103.21" y="2103.94" width="41.86" height="22.10" fill="#DEDEDE"/>
<rect x="145.07" y="2103.94" width="41.86" height="22.10" fill="#DEDEDE"/>
<rect x="186.93" y="2103.94" width="41.86" height="22.10" fill="#DEDEDE"/>
<rect x="228.79" y="2103.94" width="41.86" height="22.10" fill="#DE663C"/>
<rect x="270.64" y="2103.94" width="41.86" height="22.10" fill="#DEDEDE"/>
<rect x="19.50" y="2126.03" width="41.86" height="22.10" fill="#DEDEDE"/>
<rect x="61.36" y="2126.03" width="41.86" height="22.10" fill="#DEDEDE"/>
<rect x="103.21" y="2126.03" width="41.86" height="22.10" fill="#DEDEDE"/>
<rect x="145.07" y="2126.03" width="41.86" height="22.10" fill="#E0984F"/>
<rect x="186.93" y="2126.03" width="41.86" height="22.10" fill="#DD5F3A"/>
<rect x="228.79" y="2126.03" width="41.86" height="22.10" fill="#E0964E"/>
<rect x="270.64" y="2126.03" width="41.86" height="22.10" fill="#DEDEDE"/>
<rect x="19.50" y="2148.13" width="41.86" height="22.10" fill="#DEDEDE"/>
<rect x="61.36" y="2148.13" width="41.86" height="22.10" fill="#DEDEDE"/>
<rect x="103.21" y="2148.13" width="41.86" height="22.10" fill="#DE6F3F"/>
<rect x="145.07" y="2148.13" width="41.86" height="22.10" fill="#DEDEDE"/>
<rect x="186.93" y="2148.13" width="41.86" height="22.10" fill="#DEDEDE"/>
<rect x="228.79" y="2148.13" width="41.86" height="22.10" fill="#DD5738"/>
<rect x="270.64" y="2148.13" width="41.86" height="22.10" fill="#DEDEDE"/>
<rect x="19.50" y="2170.23" width="41.86" height="22.10" fill="#E0984F"/>
<rect x="61.36" y="2170.23" width="41.86" height="22.10" fill="#DEDEDE"/>
<rect x="103.21" y="2170.23" width="41.86" height="22.10" fill="#DE6D3E"/>
<rect x="145.07" y="2170.23" width="41.86" height="22.10" fill="#DEDEDE"/>
<rect x="186.93" y="2170.23" width="41.86" height="22.10" fill="#DEDEDE"/>
<rect x="228.79" y="2170.23" width="41.86" height="22.10" fill="#DD5738"/>
<rect x="270.64" y="2170.23" width="41.86" height="22.10" fill="#AE1E30"/>
<rect x="19.50" y="2192.33" width="41.86" height="22.10" fill="#DEDEDE"/>
<rect x="61.36" y="2192.33" width="41.86" height="22.10" fill="#DEDEDE"/>
<rect x="103.21" y="2192.33" width="41.86" height="22.10" fill="#CD2E2E"/>
<rect x="145.07" y="2192.33" width="41.86" height="22.10" fill="#DEDEDE"/>
<rect x="186.93" y="2192.33" width="41.86" height="22.10" fill="#DEDEDE"/>
<rect x="228.79" y="2192.33" width="41.86" height="22.10" fill="#DEDEDE"/>
<rect x="270.64" y="2192.33" width="41.86" height="22.10" fill="#CD2E2E"/>
<rect x="19.50" y="2214.43" width="41.86" height="22.10" fill="#DEDEDE"/>
<rect x="61.36" y="2214.43" width="41.86" height="22.10" fill="#DEDEDE"/>
<rect x="103.21" y="2214.43" width="41.86" height="22.10" fill="#D74132"/>
<rect x="145.07" y="2214.43" width="41.86" height="22.10" fill="#DEDEDE"/>
<rect x="186.93" y="2214.43" width="41.86" height="22.10" fill="#DEDEDE"/>
<rect x="228.79" y="2214.43" width="41.86" height="22.10" fill="#DEDEDE"/>
<rect x="270.64" y="2214.43" width="41.86" height="22.10" fill="#DEDEDE"/>
<rect x="19.50" y="2236.53" width="41.86" height="22.10" fill="#DEDEDE"/>
<rect x="61.36" y="2236.53" width="41.86" height="22.10" fill="#DEDEDE"/>
<rect x="103.21" y="2236.53" width="41.86" height="22.10" fill="#E0984F"/>
<rect x="145.07" y="2236.53" width="41.86" height="22.10" fill="#DEDEDE"/>
<rect x="186.93" y="2236.53" width="41.86" height="22.10" fill="#DEDEDE"/>
<rect x="228.79" y="2236.53" width="41.86" height="22.10" fill="#DEDEDE"/>
<rect x="270.64" y="2236.53" width="41.86" height="22.10" fill="#D74132"/>
<rect x="19.50" y="2258.62" width="41.86" height="22.10" fill="#E0984F"/>
<rect x="61.36" y="2258.62" width="41.86" height="22.10" fill="#DEDEDE"/>
<rect x="103.21" y="2258.62" width="41.86" height="22.10" fill="#DEDEDE"/>
<rect x="145.07" y="2258.62" width="41.86" height="22.10" fill="#DEDEDE"/>
<rect x="186.93" y="2258.62" width="41.86" height="22.10" fill="#DEDEDE"/>
<rect x="228.79" y="2258.62" width="41.86" height="22.10" fill="#DEDEDE"/>
<rect x="270.64" y="2258.62" width="41.86" height="22.10" fill="#CC2C2E"/>
<rect x="19.50" y="2280.72" width="41.86" height="22.10" fill="#DEDEDE"/>
<rect x="61.36" y="2280.72" width="41.86" height="22.10" fill="#DEDEDE"/>
<rect x="103.21" y="2280.72" width="41.86" height="22.10" fill="#DEDEDE"/>
<rect x="145.07" y="2280.72" width="41.86" height="22.10" fill="#B6212F"/>
<rect x="186.93" y="2280.72" width="41.86" height="22.10" fill="#DEDEDE"/>
<rect x="228.79" y="2280.72" width="41.86" height="22.10" fill="#DEDEDE"/>
<rect x="270.64" y="2280.72" width="41.86" height="22.10" fill="#DEDEDE"/>
<rect x="19.50" y="2302.82" width="41.86" height="22.10" fill="#DEDEDE"/>
<rect x="61.36" y="2302.82" width="41.86" height="22.10" fill="#DEDEDE"/>
<rect x="103.21" y="2302.82" width="41.86" height="22.10" fill="#DEDEDE"/>
<rect x="145.07" y="2302.82" width="41.86" height="22.10" fill="#E0964E"/>
<rect x="186.93" y="2302.82" width="41.86" height="22.10" fill="#E0964E"/>
<rect x="228.79" y="2302.82" width="41.86" height="22.10" fill="#DEDEDE"/>
<rect x="270.64" y="2302.82" width="41.86" height="22.10" fill="#DEDEDE"/>
<rect x="19.50" y="2324.92" width="41.86" height="22.10" fill="#DEDEDE"/>
<rect x="61.36" y="2324.92" width="41.86" height="22.10" fill="#DEDEDE"/>
<rect x="103.21" y="2324.92" width="41.86" height="22.10" fill="#DEDEDE"/>
<rect x="145.07" y="2324.92" width="41.86" height="22.10" fill="#E0914C"/>
<rect x="186.93" y="2324.92" width="41.86" height="22.10" fill="#DEDEDE"/>
<rect x="228.79" y="2324.92" width="41.86" height="22.10" fill="#DEDEDE"/>
<rect x="270.64" y="2324.92" width="41.86" height="22.10" fill="#DEDEDE"/>
<rect x="19.50" y="2347.02" width="41.86" height="22.10" fill="#DEDEDE"/>
<rect x="61.36" y="2347.02" width="41.86" height="22.10" fill="#DEDEDE"/>
<rect x="103.21" y="2347.02" width="41.86" height="22.10" fill="#DEDEDE"/>
<rect x="145.07" y="2347.02" width="41.86" height="22.10" fill="#DE6A3E"/>
<rect x="186.93" y="2347.02" width="41.86" height="22.10" fill="#9C1830"/>
<rect x="228.79" y="2347.02" width="41.86" height="22.10" fill="#DEDEDE"/>
<rect x="270.64" y="2347.02" width="41.86" height="22.10" fill="#DEDEDE"/>
<rect x="19.50" y="2369.11" width="41.86" height="22.10" fill="#DEDEDE"/>
<rect x="61.36" y="2369.11" width="41.86" height="22.10" fill="#DEDEDE"/>
<rect x="103.21" y="2369.11" width="41.86" height="22.10" fill="#DEDEDE"/>
<rect x="145.07" y="2369.11" width="41.86" height="22.10" fill="#DE6A3E"/>
<rect x="186.93" y="2369.11" width="41.86" height="22.10" fill="#9C1830"/>
<rect x="228.79" y="2369.11" width="41.86" height="22.10" fill="#DEDEDE"/>
<rect x="270.64" y="2369.11" width="41.86" height="22.10" fill="#DEDEDE"/>
<rect x="19.50" y="2391.21" width="41.86" height="22.10" fill="#DEDEDE"/>
<rect x="61.36" y="2391.21" width="41.86" height="22.10" fill="#DEDEDE"/>
<rect x="103.21" y="2391.21" width="41.86" height="22.10" fill="#DEDEDE"/>
<rect x="145.07" y="2391.21" width="41.86" height="22.10" fill="#E09A50"/>
<rect x="186.93" y="2391.21" width="41.86" height="22.10" fill="#DEDEDE"/>
<rect x="228.79" y="2391.21" width="41.86" height="22.10" fill="#DEDEDE"/>
<rect x="270.64" y="2391.21" width="41.86" height="22.10" fill="#DEDEDE"/>
<rect x="19.50" y="2413.31" width="41.86" height="22.10" fill="#DEDEDE"/>
<rect x="61.36" y="2413.31" width="41.86" height="22.10" fill="#DEDEDE"/>
<rect x="103.21" y="2413.31" width="41.86" height="22.10" fill="#DEDEDE"/>
<rect x="145.07" y="2413.31" width="41.86" height="22.10" fill="#DEDEDE"/>
<rect x="186.93" y="2413.31" width="41.86" height="22.10" fill="#C4272E"/>
<rect x="228.79" y="2413.31" width="41.86" height="22.10" fill="#DEDEDE"/>
<rect x="270.64" y="2413.31" width="41.86" height="22.10" fill="#DEDEDE"/>
<rect x="19.50" y="2435.41" width="41.86" height="22.10" fill="#DEDEDE"/>
<rect x="61.36" y="2435.41" width="41.86" height="22.10" fill="#DEDEDE"/>
<rect x="103.21" y="2435.41" width="41.86" height="22.10" fill="#DEDEDE"/>
<rect x="145.07" y="2435.41" width="41.86" height="22.10" fill="#DEDEDE"/>
<rect x="186.93" y="2435.41" width="41.86" height="22.10" fill="#D74132"/>
<rect x="228.79" y="2435.41" width="41.86" height="22.10" fill="#DEDEDE"/>
<rect x="270.64" y="2435.41" width="41.86" height="22.10" fill="#DEDEDE"/>
<rect x="19.50" y="2457.51" width="41.86" height="22.10" fill="#DEDEDE"/>
<rect x="61.36" y="2457.51" width="41.86" height="22.10" fill="#DEDEDE"/>
<rect x="103.21" y="2457.51" width="41.86" height="22.10" fill="#DEDEDE"/>
<rect x="145.07" y="2457.51" width="41.86" height="22.10" fill="#DEDEDE"/>
<rect x="186.93" y="2457.51" width="41.86" height="22.10" fill="#D94734"/>
<rect x="228.79" y="2457.51" width="41.86" height="22.10" fill="#DEDEDE"/>
<rect x="270.64" y="2457.51" width="41.86" height="22.10" fill="#DEDEDE"/>
<rect x="19.50" y="2479.60" width="41.86" height="22.10" fill="#DEDEDE"/>
<rect x="61.36" y="2479.60" width="41.86" height="22.10" fill="#DEDEDE"/>
<rect x="103.21" y="2479.60" width="41.86" height="22.10" fill="#DEDEDE"/>
<rect x="145.07" y="2479.60" width="41.86" height="22.10" fill="#DEDEDE"/>
<rect x="186.93" y="2479.60" width="41.86" height="22.10" fill="#E08D4A"/>
<rect x="228.79" y="2479.60" width="41.86" height="22.10" fill="#DEDEDE"/>
<rect x="270.64" y="2479.60" width="41.86" height="22.10" fill="#DEDEDE"/>
<rect x="19.50" y="2501.70" width="41.86" height="22.10" fill="#DEDEDE"/>
<rect x="61.36" y="2501.70" width="41.86" height="22.10" fill="#DEDEDE"/>
<rect x="103.21" y="2501.70" width="41.86" height="22.10" fill="#DEDEDE"/>
<rect x="145.07" y="2501.70" width="41.86" height="22.10" fill="#DEDEDE"/>
<rect x="186.93" y="2501.70" width="41.86" height="22.10" fill="#E0984F"/>
<rect x="228.79" y="2501.70" width="41.86" height="22.10" fill="#DEDEDE"/>
<rect x="270.64" y="2501.70" width="41.86" height="22.10" fill="#DEDEDE"/>
<path d="M19.50,1949.25H312.50M19.50,1971.35H312.50M19.50,1993.45H312.50M19.50,2015.54H312.50M19.50,2037.64H312.50M19.50,2059.74H312.50M19.50,2081.84H312.50M19.50,2103.94H312.50M19.50,2126.03H312.50M19.50,2148.13H312.50M19.50,2170.23H312.50M19.50,2192.33H312.50M19.50,2214.43H312.50M19.50,2236.53H312.50M19.50,2258.62H312.50M19.50,2280.72H312.50M19.50,2302.82H312.50M19.50,2324.92H312.50M19.50,2347.02H312.50M19.50,2369.11H312.50M19.50,2391.21H312.50M19.50,2413.31H312.50M19.50,2435.41H312.50M19.50,2457.51H312.50M19.50,2479.60H312.50M19.50,2501.70H312.50M19.50,2523.80H312.50M19.50,1949.25V2523.80M61.36,1949.25V2523.80M103.21,1949.25V2523.80M145.07,1949.25V2523.80M186.93,1949.25V2523.80M228.79,1949.25V2523.80M270.64,1949.25V2523.80M312.50,1949.25V2523.80" stroke="#000" stroke-width="1.8" fill="none" stroke-linecap="square"/>
</g>
<text x="319.0" y="1968.8" font-size="20.9">Metapathway biotransformation</text>
<text x="319.0" y="1990.9" font-size="20.9">Calcium Regulation in the Cardiac Cell</text>
<text x="319.0" y="2013.0" font-size="20.9">G Protein Signaling Pathways</text>
<text x="319.0" y="2035.1" font-size="20.9">Endochondral Ossification</text>
<text x="319.0" y="2057.2" font-size="20.9">Nuclear Receptors</text>
<text x="319.0" y="2079.3" font-size="20.9">PPAR signaling pathway</text>
<text x="319.0" y="2101.4" font-size="20.9">Adipogenesis genes</text>
<text x="319.0" y="2123.5" font-size="20.9">ErbB signaling pathway</text>
<text x="319.0" y="2145.6" font-size="20.9">Myometrial Relaxation and Contraction Pathways</text>
<text x="319.0" y="2167.7" font-size="20.9">Fatty Acid Biosynthesis</text>
<text x="319.0" y="2189.8" font-size="20.9">Triacylglyceride Synthesis</text>
<text x="319.0" y="2211.9" font-size="20.9">White fat cell differentiation</text>
<text x="319.0" y="2234.0" font-size="20.9">Splicing factor NOVA regulated synaptic proteins</text>
<text x="319.0" y="2256.1" font-size="20.9">Integrin<tspan style="font-size:88%" dy="0.02em">−</tspan><tspan dy="-0.02em">mediated Cell Adhesion</tspan></text>
<text x="319.0" y="2278.2" font-size="20.9">Nuclear receptors in lipid metabolism and toxicity</text>
<text x="319.0" y="2300.3" font-size="20.9">Macrophage markers</text>
<text x="319.0" y="2322.4" font-size="20.9">Non<tspan style="font-size:88%" dy="0.02em">−</tspan><tspan dy="-0.02em">odorant GPCRs</tspan></text>
<text x="319.0" y="2344.5" font-size="20.9">MicroRNAs in Cardiomyocyte Hypertrophy</text>
<text x="319.0" y="2366.6" font-size="20.9">Hypothetical Network for Drug Addiction</text>
<text x="319.0" y="2388.7" font-size="20.9">Monoamine GPCRs</text>
<text x="319.0" y="2410.8" font-size="20.9">Neural Crest Differentiation</text>
<text x="319.0" y="2432.9" font-size="20.9">Wnt Signaling Pathway</text>
<text x="319.0" y="2455.0" font-size="20.9">Wnt Signaling Pathway and Pluripotency</text>
<text x="319.0" y="2477.1" font-size="20.9">ESC Pluripotency Pathways</text>
<text x="319.0" y="2499.2" font-size="20.9">GPCRs, Class A Rhodopsin<tspan style="font-size:88%" dy="0.02em">−</tspan><tspan dy="-0.02em">like</tspan></text>
<text x="319.0" y="2521.3" font-size="20.9">PluriNetWork</text>
<text transform="translate(33.1,2533.0) rotate(90)" font-size="20.4">Adipocytes</text>
<text transform="translate(74.9,2533.0) rotate(90)" font-size="20.4">APC</text>
<text transform="translate(116.8,2533.0) rotate(90)" font-size="20.4">LAM</text>
<text transform="translate(158.7,2533.0) rotate(90)" font-size="20.4">NPVM</text>
<text transform="translate(200.5,2533.0) rotate(90)" font-size="20.4">PVM</text>
<text transform="translate(242.4,2533.0) rotate(90)" font-size="20.4">EndoC</text>
<text transform="translate(284.2,2533.0) rotate(90)" font-size="20.4">MesoC</text>
<text x="722.2" y="1926.6" font-size="20.8">Enrichment</text>
<text x="722.2" y="1945.2" font-size="20.8">Score</text>
<rect x="789.5" y="1949.7" width="20.4" height="330.8" fill="url(#gY)"/>
<text x="817.8" y="1957.4" font-size="20.8">10</text>
<text x="817.8" y="2023.8" font-size="20.8">8</text>
<text x="817.8" y="2090.4" font-size="20.8">6</text>
<text x="817.8" y="2156.0" font-size="20.8">4</text>
<text x="817.8" y="2222.3" font-size="20.8">2</text>
<text x="817.8" y="2288.9" font-size="20.8">0</text>
<text x="963.2" y="1930.5" font-size="32.5" font-weight="bold">f</text>
<g shape-rendering="geometricPrecision">
<rect x="977.50" y="1941.25" width="42.14" height="22.16" fill="#730E30"/>
<rect x="1019.64" y="1941.25" width="42.14" height="22.16" fill="#841130"/>
<rect x="1061.79" y="1941.25" width="42.14" height="22.16" fill="#7D1030"/>
<rect x="1103.93" y="1941.25" width="42.14" height="22.16" fill="#C6282E"/>
<rect x="1146.07" y="1941.25" width="42.14" height="22.16" fill="#841130"/>
<rect x="1188.21" y="1941.25" width="42.14" height="22.16" fill="#7D1030"/>
<rect x="1230.36" y="1941.25" width="42.14" height="22.16" fill="#C4272E"/>
<rect x="977.50" y="1963.41" width="42.14" height="22.16" fill="#CD2E2E"/>
<rect x="1019.64" y="1963.41" width="42.14" height="22.16" fill="#DE663C"/>
<rect x="1061.79" y="1963.41" width="42.14" height="22.16" fill="#DC5437"/>
<rect x="1103.93" y="1963.41" width="42.14" height="22.16" fill="#DEDEDE"/>
<rect x="1146.07" y="1963.41" width="42.14" height="22.16" fill="#DD5938"/>
<rect x="1188.21" y="1963.41" width="42.14" height="22.16" fill="#D53A30"/>
<rect x="1230.36" y="1963.41" width="42.14" height="22.16" fill="#DEDEDE"/>
<rect x="977.50" y="1985.58" width="42.14" height="22.16" fill="#CD2E2E"/>
<rect x="1019.64" y="1985.58" width="42.14" height="22.16" fill="#DE6D3E"/>
<rect x="1061.79" y="1985.58" width="42.14" height="22.16" fill="#DE663C"/>
<rect x="1103.93" y="1985.58" width="42.14" height="22.16" fill="#DEDEDE"/>
<rect x="1146.07" y="1985.58" width="42.14" height="22.16" fill="#DD5938"/>
<rect x="1188.21" y="1985.58" width="42.14" height="22.16" fill="#D53A30"/>
<rect x="1230.36" y="1985.58" width="42.14" height="22.16" fill="#DEDEDE"/>
<rect x="977.50" y="2007.74" width="42.14" height="22.16" fill="#C4272E"/>
<rect x="1019.64" y="2007.74" width="42.14" height="22.16" fill="#DEDEDE"/>
<rect x="1061.79" y="2007.74" width="42.14" height="22.16" fill="#DA4934"/>
<rect x="1103.93" y="2007.74" width="42.14" height="22.16" fill="#DEDEDE"/>
<rect x="1146.07" y="2007.74" width="42.14" height="22.16" fill="#DEDEDE"/>
<rect x="1188.21" y="2007.74" width="42.14" height="22.16" fill="#CD2E2E"/>
<rect x="1230.36" y="2007.74" width="42.14" height="22.16" fill="#F3EFA0"/>
<rect x="977.50" y="2029.91" width="42.14" height="22.16" fill="#BE252F"/>
<rect x="1019.64" y="2029.91" width="42.14" height="22.16" fill="#DEDEDE"/>
<rect x="1061.79" y="2029.91" width="42.14" height="22.16" fill="#D74132"/>
<rect x="1103.93" y="2029.91" width="42.14" height="22.16" fill="#DEDEDE"/>
<rect x="1146.07" y="2029.91" width="42.14" height="22.16" fill="#DEDEDE"/>
<rect x="1188.21" y="2029.91" width="42.14" height="22.16" fill="#CD2E2E"/>
<rect x="1230.36" y="2029.91" width="42.14" height="22.16" fill="#CF302E"/>
<rect x="977.50" y="2052.07" width="42.14" height="22.16" fill="#DA4934"/>
<rect x="1019.64" y="2052.07" width="42.14" height="22.16" fill="#DF7742"/>
<rect x="1061.79" y="2052.07" width="42.14" height="22.16" fill="#AE1E30"/>
<rect x="1103.93" y="2052.07" width="42.14" height="22.16" fill="#D63C30"/>
<rect x="1146.07" y="2052.07" width="42.14" height="22.16" fill="#D74132"/>
<rect x="1188.21" y="2052.07" width="42.14" height="22.16" fill="#F3EFA0"/>
<rect x="1230.36" y="2052.07" width="42.14" height="22.16" fill="#E6C569"/>
<rect x="977.50" y="2074.24" width="42.14" height="22.16" fill="#DF8B4A"/>
<rect x="1019.64" y="2074.24" width="42.14" height="22.16" fill="#DEDEDE"/>
<rect x="1061.79" y="2074.24" width="42.14" height="22.16" fill="#DEDEDE"/>
<rect x="1103.93" y="2074.24" width="42.14" height="22.16" fill="#DEDEDE"/>
<rect x="1146.07" y="2074.24" width="42.14" height="22.16" fill="#DEDEDE"/>
<rect x="1188.21" y="2074.24" width="42.14" height="22.16" fill="#DEDEDE"/>
<rect x="1230.36" y="2074.24" width="42.14" height="22.16" fill="#DEDEDE"/>
<rect x="977.50" y="2096.40" width="42.14" height="22.16" fill="#D94734"/>
<rect x="1019.64" y="2096.40" width="42.14" height="22.16" fill="#841130"/>
<rect x="1061.79" y="2096.40" width="42.14" height="22.16" fill="#A91C30"/>
<rect x="1103.93" y="2096.40" width="42.14" height="22.16" fill="#C6282E"/>
<rect x="1146.07" y="2096.40" width="42.14" height="22.16" fill="#7D1030"/>
<rect x="1188.21" y="2096.40" width="42.14" height="22.16" fill="#DEDEDE"/>
<rect x="1230.36" y="2096.40" width="42.14" height="22.16" fill="#730E30"/>
<rect x="977.50" y="2118.57" width="42.14" height="22.16" fill="#DA4934"/>
<rect x="1019.64" y="2118.57" width="42.14" height="22.16" fill="#DEDEDE"/>
<rect x="1061.79" y="2118.57" width="42.14" height="22.16" fill="#DEDEDE"/>
<rect x="1103.93" y="2118.57" width="42.14" height="22.16" fill="#DEDEDE"/>
<rect x="1146.07" y="2118.57" width="42.14" height="22.16" fill="#DEDEDE"/>
<rect x="1188.21" y="2118.57" width="42.14" height="22.16" fill="#DEDEDE"/>
<rect x="1230.36" y="2118.57" width="42.14" height="22.16" fill="#DEDEDE"/>
<rect x="977.50" y="2140.74" width="42.14" height="22.16" fill="#DEDEDE"/>
<rect x="1019.64" y="2140.74" width="42.14" height="22.16" fill="#D74132"/>
<rect x="1061.79" y="2140.74" width="42.14" height="22.16" fill="#D53A30"/>
<rect x="1103.93" y="2140.74" width="42.14" height="22.16" fill="#DEDEDE"/>
<rect x="1146.07" y="2140.74" width="42.14" height="22.16" fill="#DD5738"/>
<rect x="1188.21" y="2140.74" width="42.14" height="22.16" fill="#DEDEDE"/>
<rect x="1230.36" y="2140.74" width="42.14" height="22.16" fill="#A91C30"/>
<rect x="977.50" y="2162.90" width="42.14" height="22.16" fill="#DEDEDE"/>
<rect x="1019.64" y="2162.90" width="42.14" height="22.16" fill="#DA4934"/>
<rect x="1061.79" y="2162.90" width="42.14" height="22.16" fill="#DEDEDE"/>
<rect x="1103.93" y="2162.90" width="42.14" height="22.16" fill="#D73F32"/>
<rect x="1146.07" y="2162.90" width="42.14" height="22.16" fill="#D74132"/>
<rect x="1188.21" y="2162.90" width="42.14" height="22.16" fill="#AE1E30"/>
<rect x="1230.36" y="2162.90" width="42.14" height="22.16" fill="#DE623B"/>
<rect x="977.50" y="2185.07" width="42.14" height="22.16" fill="#DEDEDE"/>
<rect x="1019.64" y="2185.07" width="42.14" height="22.16" fill="#E08F4B"/>
<rect x="1061.79" y="2185.07" width="42.14" height="22.16" fill="#E4B860"/>
<rect x="1103.93" y="2185.07" width="42.14" height="22.16" fill="#DF8B4A"/>
<rect x="1146.07" y="2185.07" width="42.14" height="22.16" fill="#DEDEDE"/>
<rect x="1188.21" y="2185.07" width="42.14" height="22.16" fill="#DEDEDE"/>
<rect x="1230.36" y="2185.07" width="42.14" height="22.16" fill="#DEDEDE"/>
<rect x="977.50" y="2207.23" width="42.14" height="22.16" fill="#DEDEDE"/>
<rect x="1019.64" y="2207.23" width="42.14" height="22.16" fill="#DA4934"/>
<rect x="1061.79" y="2207.23" width="42.14" height="22.16" fill="#DEDEDE"/>
<rect x="1103.93" y="2207.23" width="42.14" height="22.16" fill="#DEDEDE"/>
<rect x="1146.07" y="2207.23" width="42.14" height="22.16" fill="#DEDEDE"/>
<rect x="1188.21" y="2207.23" width="42.14" height="22.16" fill="#C4272E"/>
<rect x="1230.36" y="2207.23" width="42.14" height="22.16" fill="#A01930"/>
<rect x="977.50" y="2229.39" width="42.14" height="22.16" fill="#DEDEDE"/>
<rect x="1019.64" y="2229.39" width="42.14" height="22.16" fill="#DF7742"/>
<rect x="1061.79" y="2229.39" width="42.14" height="22.16" fill="#DE6D3E"/>
<rect x="1103.93" y="2229.39" width="42.14" height="22.16" fill="#DEDEDE"/>
<rect x="1146.07" y="2229.39" width="42.14" height="22.16" fill="#DEDEDE"/>
<rect x="1188.21" y="2229.39" width="42.14" height="22.16" fill="#DEDEDE"/>
<rect x="1230.36" y="2229.39" width="42.14" height="22.16" fill="#DEDEDE"/>
<rect x="977.50" y="2251.56" width="42.14" height="22.16" fill="#DEDEDE"/>
<rect x="1019.64" y="2251.56" width="42.14" height="22.16" fill="#DC5437"/>
<rect x="1061.79" y="2251.56" width="42.14" height="22.16" fill="#DA4934"/>
<rect x="1103.93" y="2251.56" width="42.14" height="22.16" fill="#DEDEDE"/>
<rect x="1146.07" y="2251.56" width="42.14" height="22.16" fill="#DEDEDE"/>
<rect x="1188.21" y="2251.56" width="42.14" height="22.16" fill="#DEDEDE"/>
<rect x="1230.36" y="2251.56" width="42.14" height="22.16" fill="#DEDEDE"/>
<rect x="977.50" y="2273.72" width="42.14" height="22.16" fill="#DEDEDE"/>
<rect x="1019.64" y="2273.72" width="42.14" height="22.16" fill="#DF7C44"/>
<rect x="1061.79" y="2273.72" width="42.14" height="22.16" fill="#DE6D3E"/>
<rect x="1103.93" y="2273.72" width="42.14" height="22.16" fill="#DEDEDE"/>
<rect x="1146.07" y="2273.72" width="42.14" height="22.16" fill="#DE663C"/>
<rect x="1188.21" y="2273.72" width="42.14" height="22.16" fill="#DEDEDE"/>
<rect x="1230.36" y="2273.72" width="42.14" height="22.16" fill="#DA4934"/>
<rect x="977.50" y="2295.89" width="42.14" height="22.16" fill="#DEDEDE"/>
<rect x="1019.64" y="2295.89" width="42.14" height="22.16" fill="#DEDEDE"/>
<rect x="1061.79" y="2295.89" width="42.14" height="22.16" fill="#DEDEDE"/>
<rect x="1103.93" y="2295.89" width="42.14" height="22.16" fill="#DEDEDE"/>
<rect x="1146.07" y="2295.89" width="42.14" height="22.16" fill="#DEDEDE"/>
<rect x="1188.21" y="2295.89" width="42.14" height="22.16" fill="#AE1E30"/>
<rect x="1230.36" y="2295.89" width="42.14" height="22.16" fill="#A01930"/>
<rect x="977.50" y="2318.05" width="42.14" height="22.16" fill="#DEDEDE"/>
<rect x="1019.64" y="2318.05" width="42.14" height="22.16" fill="#DEDEDE"/>
<rect x="1061.79" y="2318.05" width="42.14" height="22.16" fill="#BE252F"/>
<rect x="1103.93" y="2318.05" width="42.14" height="22.16" fill="#DA4934"/>
<rect x="1146.07" y="2318.05" width="42.14" height="22.16" fill="#DEDEDE"/>
<rect x="1188.21" y="2318.05" width="42.14" height="22.16" fill="#DEDEDE"/>
<rect x="1230.36" y="2318.05" width="42.14" height="22.16" fill="#DEDEDE"/>
<rect x="977.50" y="2340.22" width="42.14" height="22.16" fill="#DEDEDE"/>
<rect x="1019.64" y="2340.22" width="42.14" height="22.16" fill="#E6C76B"/>
<rect x="1061.79" y="2340.22" width="42.14" height="22.16" fill="#D74132"/>
<rect x="1103.93" y="2340.22" width="42.14" height="22.16" fill="#DE623B"/>
<rect x="1146.07" y="2340.22" width="42.14" height="22.16" fill="#DEDEDE"/>
<rect x="1188.21" y="2340.22" width="42.14" height="22.16" fill="#DEDEDE"/>
<rect x="1230.36" y="2340.22" width="42.14" height="22.16" fill="#CD2E2E"/>
<rect x="977.50" y="2362.38" width="42.14" height="22.16" fill="#DEDEDE"/>
<rect x="1019.64" y="2362.38" width="42.14" height="22.16" fill="#DEDEDE"/>
<rect x="1061.79" y="2362.38" width="42.14" height="22.16" fill="#DE6D3E"/>
<rect x="1103.93" y="2362.38" width="42.14" height="22.16" fill="#DEDEDE"/>
<rect x="1146.07" y="2362.38" width="42.14" height="22.16" fill="#DEDEDE"/>
<rect x="1188.21" y="2362.38" width="42.14" height="22.16" fill="#DEDEDE"/>
<rect x="1230.36" y="2362.38" width="42.14" height="22.16" fill="#DEDEDE"/>
<rect x="977.50" y="2384.55" width="42.14" height="22.16" fill="#DEDEDE"/>
<rect x="1019.64" y="2384.55" width="42.14" height="22.16" fill="#DEDEDE"/>
<rect x="1061.79" y="2384.55" width="42.14" height="22.16" fill="#E0964E"/>
<rect x="1103.93" y="2384.55" width="42.14" height="22.16" fill="#E3B45D"/>
<rect x="1146.07" y="2384.55" width="42.14" height="22.16" fill="#E0964E"/>
<rect x="1188.21" y="2384.55" width="42.14" height="22.16" fill="#DEDEDE"/>
<rect x="1230.36" y="2384.55" width="42.14" height="22.16" fill="#DEDEDE"/>
<rect x="977.50" y="2406.72" width="42.14" height="22.16" fill="#DEDEDE"/>
<rect x="1019.64" y="2406.72" width="42.14" height="22.16" fill="#DEDEDE"/>
<rect x="1061.79" y="2406.72" width="42.14" height="22.16" fill="#DF8045"/>
<rect x="1103.93" y="2406.72" width="42.14" height="22.16" fill="#DEDEDE"/>
<rect x="1146.07" y="2406.72" width="42.14" height="22.16" fill="#DEDEDE"/>
<rect x="1188.21" y="2406.72" width="42.14" height="22.16" fill="#DEDEDE"/>
<rect x="1230.36" y="2406.72" width="42.14" height="22.16" fill="#DEDEDE"/>
<rect x="977.50" y="2428.88" width="42.14" height="22.16" fill="#DEDEDE"/>
<rect x="1019.64" y="2428.88" width="42.14" height="22.16" fill="#DEDEDE"/>
<rect x="1061.79" y="2428.88" width="42.14" height="22.16" fill="#DF8045"/>
<rect x="1103.93" y="2428.88" width="42.14" height="22.16" fill="#DEDEDE"/>
<rect x="1146.07" y="2428.88" width="42.14" height="22.16" fill="#DEDEDE"/>
<rect x="1188.21" y="2428.88" width="42.14" height="22.16" fill="#DEDEDE"/>
<rect x="1230.36" y="2428.88" width="42.14" height="22.16" fill="#DEDEDE"/>
<rect x="977.50" y="2451.05" width="42.14" height="22.16" fill="#DEDEDE"/>
<rect x="1019.64" y="2451.05" width="42.14" height="22.16" fill="#DEDEDE"/>
<rect x="1061.79" y="2451.05" width="42.14" height="22.16" fill="#DEDEDE"/>
<rect x="1103.93" y="2451.05" width="42.14" height="22.16" fill="#DA4934"/>
<rect x="1146.07" y="2451.05" width="42.14" height="22.16" fill="#DEDEDE"/>
<rect x="1188.21" y="2451.05" width="42.14" height="22.16" fill="#DEDEDE"/>
<rect x="1230.36" y="2451.05" width="42.14" height="22.16" fill="#DEDEDE"/>
<rect x="977.50" y="2473.21" width="42.14" height="22.16" fill="#DEDEDE"/>
<rect x="1019.64" y="2473.21" width="42.14" height="22.16" fill="#DEDEDE"/>
<rect x="1061.79" y="2473.21" width="42.14" height="22.16" fill="#DEDEDE"/>
<rect x="1103.93" y="2473.21" width="42.14" height="22.16" fill="#DE6D3E"/>
<rect x="1146.07" y="2473.21" width="42.14" height="22.16" fill="#DEDEDE"/>
<rect x="1188.21" y="2473.21" width="42.14" height="22.16" fill="#DEDEDE"/>
<rect x="1230.36" y="2473.21" width="42.14" height="22.16" fill="#DEDEDE"/>
<rect x="977.50" y="2495.38" width="42.14" height="22.16" fill="#DEDEDE"/>
<rect x="1019.64" y="2495.38" width="42.14" height="22.16" fill="#DEDEDE"/>
<rect x="1061.79" y="2495.38" width="42.14" height="22.16" fill="#DEDEDE"/>
<rect x="1103.93" y="2495.38" width="42.14" height="22.16" fill="#E0984F"/>
<rect x="1146.07" y="2495.38" width="42.14" height="22.16" fill="#DEDEDE"/>
<rect x="1188.21" y="2495.38" width="42.14" height="22.16" fill="#DEDEDE"/>
<rect x="1230.36" y="2495.38" width="42.14" height="22.16" fill="#DEDEDE"/>
<rect x="977.50" y="2517.54" width="42.14" height="22.16" fill="#DEDEDE"/>
<rect x="1019.64" y="2517.54" width="42.14" height="22.16" fill="#DEDEDE"/>
<rect x="1061.79" y="2517.54" width="42.14" height="22.16" fill="#DEDEDE"/>
<rect x="1103.93" y="2517.54" width="42.14" height="22.16" fill="#CD2E2E"/>
<rect x="1146.07" y="2517.54" width="42.14" height="22.16" fill="#DEDEDE"/>
<rect x="1188.21" y="2517.54" width="42.14" height="22.16" fill="#DEDEDE"/>
<rect x="1230.36" y="2517.54" width="42.14" height="22.16" fill="#DEDEDE"/>
<rect x="977.50" y="2539.70" width="42.14" height="22.16" fill="#DEDEDE"/>
<rect x="1019.64" y="2539.70" width="42.14" height="22.16" fill="#DEDEDE"/>
<rect x="1061.79" y="2539.70" width="42.14" height="22.16" fill="#DEDEDE"/>
<rect x="1103.93" y="2539.70" width="42.14" height="22.16" fill="#E08D4A"/>
<rect x="1146.07" y="2539.70" width="42.14" height="22.16" fill="#DEDEDE"/>
<rect x="1188.21" y="2539.70" width="42.14" height="22.16" fill="#DEDEDE"/>
<rect x="1230.36" y="2539.70" width="42.14" height="22.16" fill="#DEDEDE"/>
<rect x="977.50" y="2561.87" width="42.14" height="22.16" fill="#DEDEDE"/>
<rect x="1019.64" y="2561.87" width="42.14" height="22.16" fill="#DEDEDE"/>
<rect x="1061.79" y="2561.87" width="42.14" height="22.16" fill="#DEDEDE"/>
<rect x="1103.93" y="2561.87" width="42.14" height="22.16" fill="#E3B45D"/>
<rect x="1146.07" y="2561.87" width="42.14" height="22.16" fill="#DEDEDE"/>
<rect x="1188.21" y="2561.87" width="42.14" height="22.16" fill="#DEDEDE"/>
<rect x="1230.36" y="2561.87" width="42.14" height="22.16" fill="#DEDEDE"/>
<rect x="977.50" y="2584.03" width="42.14" height="22.16" fill="#DEDEDE"/>
<rect x="1019.64" y="2584.03" width="42.14" height="22.16" fill="#DEDEDE"/>
<rect x="1061.79" y="2584.03" width="42.14" height="22.16" fill="#DEDEDE"/>
<rect x="1103.93" y="2584.03" width="42.14" height="22.16" fill="#E08F4B"/>
<rect x="1146.07" y="2584.03" width="42.14" height="22.16" fill="#DEDEDE"/>
<rect x="1188.21" y="2584.03" width="42.14" height="22.16" fill="#DEDEDE"/>
<rect x="1230.36" y="2584.03" width="42.14" height="22.16" fill="#DEDEDE"/>
<path d="M977.50,1941.25H1272.50M977.50,1963.41H1272.50M977.50,1985.58H1272.50M977.50,2007.74H1272.50M977.50,2029.91H1272.50M977.50,2052.07H1272.50M977.50,2074.24H1272.50M977.50,2096.40H1272.50M977.50,2118.57H1272.50M977.50,2140.74H1272.50M977.50,2162.90H1272.50M977.50,2185.07H1272.50M977.50,2207.23H1272.50M977.50,2229.39H1272.50M977.50,2251.56H1272.50M977.50,2273.72H1272.50M977.50,2295.89H1272.50M977.50,2318.05H1272.50M977.50,2340.22H1272.50M977.50,2362.38H1272.50M977.50,2384.55H1272.50M977.50,2406.72H1272.50M977.50,2428.88H1272.50M977.50,2451.05H1272.50M977.50,2473.21H1272.50M977.50,2495.38H1272.50M977.50,2517.54H1272.50M977.50,2539.70H1272.50M977.50,2561.87H1272.50M977.50,2584.03H1272.50M977.50,2606.20H1272.50M977.50,1941.25V2606.20M1019.64,1941.25V2606.20M1061.79,1941.25V2606.20M1103.93,1941.25V2606.20M1146.07,1941.25V2606.20M1188.21,1941.25V2606.20M1230.36,1941.25V2606.20M1272.50,1941.25V2606.20" stroke="#000" stroke-width="1.8" fill="none" stroke-linecap="square"/>
</g>
<text x="1283.5" y="1960.6" font-size="21.0">Fatty Acid Omega Oxidation</text>
<text x="1283.5" y="1982.8" font-size="21.0">Retinol metabolism</text>
<text x="1283.5" y="2005.0" font-size="21.0">Tryptophan metabolism</text>
<text x="1283.5" y="2027.1" font-size="21.0">Ethanol metabolism resulting in production of ROS</text>
<text x="1283.5" y="2049.3" font-size="21.0">Irinotecan Pathway</text>
<text x="1283.5" y="2071.5" font-size="21.0">Adipogenesis genes</text>
<text x="1283.5" y="2093.6" font-size="21.0">Metapathway biotransformation</text>
<text x="1283.5" y="2115.8" font-size="21.0">Fatty Acid Biosynthesis</text>
<text x="1283.5" y="2138.0" font-size="21.0">GPCRs, Class B Secretin<tspan style="font-size:88%" dy="0.02em">−</tspan><tspan dy="-0.02em">like</tspan></text>
<text x="1283.5" y="2160.1" font-size="21.0">PPAR signaling pathway</text>
<text x="1283.5" y="2182.3" font-size="21.0">Endochondral Ossification</text>
<text x="1283.5" y="2204.4" font-size="21.0">Focal Adhesion<tspan style="font-size:88%" dy="0.02em">−</tspan><tspan dy="-0.02em">PI3K</tspan><tspan style="font-size:88%" dy="0.02em">−</tspan><tspan dy="-0.02em">Akt</tspan><tspan style="font-size:88%" dy="0.02em">−</tspan><tspan dy="-0.02em">mTOR</tspan><tspan style="font-size:88%" dy="0.02em">−</tspan><tspan dy="-0.02em">signaling pathway</tspan></text>
<text x="1283.5" y="2226.6" font-size="21.0">Nuclear receptors in lipid metabolism and toxicity</text>
<text x="1283.5" y="2248.8" font-size="21.0">Amino Acid metabolism</text>
<text x="1283.5" y="2270.9" font-size="21.0">Fatty Acid Beta Oxidation</text>
<text x="1283.5" y="2293.1" font-size="21.0">Cholesterol metabolism</text>
<text x="1283.5" y="2315.3" font-size="21.0">Robo4 and VEGF Signaling Pathways Crosstalk</text>
<text x="1283.5" y="2337.4" font-size="21.0">Nuclear Receptors</text>
<text x="1283.5" y="2359.6" font-size="21.0">White fat cell differentiation</text>
<text x="1283.5" y="2381.8" font-size="21.0">Glycolysis and Gluconeogenesis</text>
<text x="1283.5" y="2403.9" font-size="21.0">Calcium Regulation in the Cardiac Cell</text>
<text x="1283.5" y="2426.1" font-size="21.0">TYROBP Causal Network</text>
<text x="1283.5" y="2448.3" font-size="21.0">Wnt Signaling Pathway</text>
<text x="1283.5" y="2470.4" font-size="21.0">G Protein Signaling Pathways</text>
<text x="1283.5" y="2492.6" font-size="21.0">One carbon metabolism and related pathways</text>
<text x="1283.5" y="2514.8" font-size="21.0">Myometrial Relaxation and Contraction Pathways</text>
<text x="1283.5" y="2536.9" font-size="21.0">Macrophage markers</text>
<text x="1283.5" y="2559.1" font-size="21.0">Alpha6<tspan style="font-size:88%" dy="0.02em">−</tspan><tspan dy="-0.02em">Beta4 Integrin Signaling Pathway</tspan></text>
<text x="1283.5" y="2581.3" font-size="21.0">EGFR1 Signaling Pathway</text>
<text x="1283.5" y="2603.4" font-size="21.0">ErbB signaling pathway</text>
<text transform="translate(991.3,2613.4) rotate(90)" font-size="21.1">Adipocytes</text>
<text transform="translate(1033.4,2613.4) rotate(90)" font-size="21.1">APC</text>
<text transform="translate(1074.7,2613.4) rotate(90)" font-size="21.1">LAM</text>
<text transform="translate(1115.4,2613.4) rotate(90)" font-size="21.1">PVM</text>
<text transform="translate(1163.7,2613.4) rotate(90)" font-size="21.1">NPVM</text>
<text transform="translate(1204.3,2613.4) rotate(90)" font-size="21.1">EndoC</text>
<text transform="translate(1247.2,2613.4) rotate(90)" font-size="21.1">MesoC</text>
<text x="1701.2" y="1917.0" font-size="20.8">Enrichment</text>
<text x="1701.2" y="1935.6" font-size="20.8">Score</text>
<rect x="1776.8" y="1931.1" width="20.7" height="332.1" fill="url(#gY)"/>
<text x="1805.5" y="1939.2" font-size="20.8">10</text>
<text x="1805.5" y="2005.8" font-size="20.8">8</text>
<text x="1805.5" y="2072.8" font-size="20.8">6</text>
<text x="1805.5" y="2139.4" font-size="20.8">4</text>
<text x="1805.5" y="2206.1" font-size="20.8">2</text>
<text x="1805.5" y="2271.3" font-size="20.8">0</text>
</svg>
</body></html>
